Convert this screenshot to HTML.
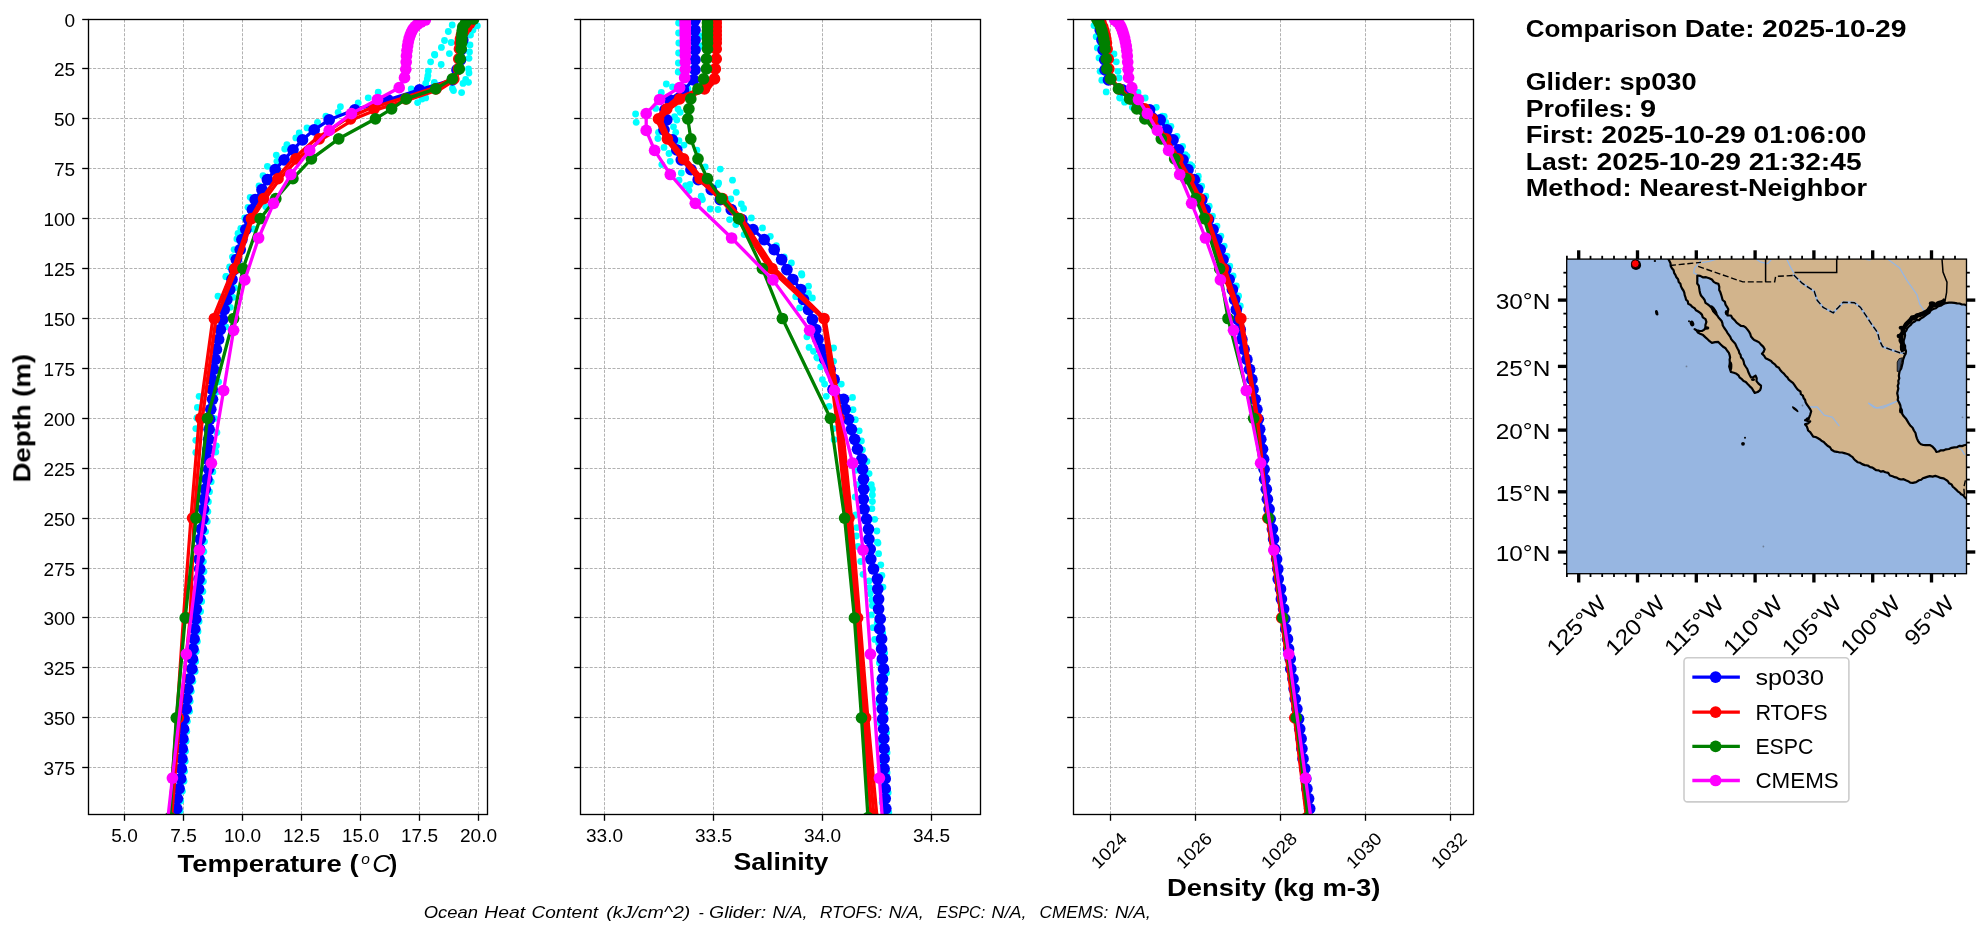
<!DOCTYPE html>
<html><head><meta charset="utf-8"><title>Glider comparison</title>
<style>html,body{margin:0;padding:0;background:#fff}svg{display:block}text{font-family:"Liberation Sans",sans-serif;fill:#000}</style></head><body>
<svg width="1978" height="934" viewBox="0 0 1978 934">
<rect width="1978" height="934" fill="#fff"/>
<defs>
<clipPath id="c0"><rect x="88.5" y="19" width="399.1" height="795.3"/></clipPath>
<clipPath id="c1"><rect x="580.6" y="19" width="400.2" height="795.3"/></clipPath>
<clipPath id="c2"><rect x="1073.3" y="19" width="400.5" height="795.3"/></clipPath>
<clipPath id="cm"><rect x="1566.7" y="259.1" width="399.8" height="314.6"/></clipPath>
<filter id="tf" x="0" y="0" width="1978" height="934" filterUnits="userSpaceOnUse" color-interpolation-filters="sRGB"><feOffset dx="0" dy="0"/></filter>
</defs>
<g stroke="#b2b2b2" stroke-width="1" stroke-dasharray="3.08 1.47" fill="none">
<line x1="124.5" y1="814.3" x2="124.5" y2="19"/>
<line x1="183.5" y1="814.3" x2="183.5" y2="19"/>
<line x1="242.5" y1="814.3" x2="242.5" y2="19"/>
<line x1="301.5" y1="814.3" x2="301.5" y2="19"/>
<line x1="360.5" y1="814.3" x2="360.5" y2="19"/>
<line x1="419.5" y1="814.3" x2="419.5" y2="19"/>
<line x1="478.5" y1="814.3" x2="478.5" y2="19"/>
<line x1="88.5" y1="19.5" x2="487.6" y2="19.5"/>
<line x1="88.5" y1="68.5" x2="487.6" y2="68.5"/>
<line x1="88.5" y1="118.5" x2="487.6" y2="118.5"/>
<line x1="88.5" y1="168.5" x2="487.6" y2="168.5"/>
<line x1="88.5" y1="218.5" x2="487.6" y2="218.5"/>
<line x1="88.5" y1="268.5" x2="487.6" y2="268.5"/>
<line x1="88.5" y1="318.5" x2="487.6" y2="318.5"/>
<line x1="88.5" y1="368.5" x2="487.6" y2="368.5"/>
<line x1="88.5" y1="418.5" x2="487.6" y2="418.5"/>
<line x1="88.5" y1="468.5" x2="487.6" y2="468.5"/>
<line x1="88.5" y1="518.5" x2="487.6" y2="518.5"/>
<line x1="88.5" y1="568.5" x2="487.6" y2="568.5"/>
<line x1="88.5" y1="617.5" x2="487.6" y2="617.5"/>
<line x1="88.5" y1="667.5" x2="487.6" y2="667.5"/>
<line x1="88.5" y1="717.5" x2="487.6" y2="717.5"/>
<line x1="88.5" y1="767.5" x2="487.6" y2="767.5"/>
</g>
<g clip-path="url(#c0)">
<g fill="#00ffff">
<circle cx="452.2" cy="25" r="3.4"/>
<circle cx="448.3" cy="31.5" r="3.4"/>
<circle cx="444.5" cy="40.5" r="3.4"/>
<circle cx="451.2" cy="42.5" r="3.4"/>
<circle cx="441.4" cy="47.4" r="3.4"/>
<circle cx="434.5" cy="54.3" r="3.4"/>
<circle cx="449.4" cy="53.6" r="3.4"/>
<circle cx="430.6" cy="61.8" r="3.4"/>
<circle cx="434.8" cy="55" r="3.4"/>
<circle cx="441.2" cy="64.5" r="3.4"/>
<circle cx="428.4" cy="71.1" r="3.4"/>
<circle cx="427.9" cy="75.6" r="3.4"/>
<circle cx="427.3" cy="79" r="3.4"/>
<circle cx="425.7" cy="83.4" r="3.4"/>
<circle cx="434.3" cy="82.3" r="3.4"/>
<circle cx="411.2" cy="89" r="3.4"/>
<circle cx="469" cy="58.3" r="3.4"/>
<circle cx="468.5" cy="69" r="3.4"/>
<circle cx="469" cy="73" r="3.4"/>
<circle cx="465.7" cy="79.5" r="3.4"/>
<circle cx="468.5" cy="82.3" r="3.4"/>
<circle cx="463" cy="83.4" r="3.4"/>
<circle cx="452.4" cy="88.4" r="3.4"/>
<circle cx="453.5" cy="90.6" r="3.4"/>
<circle cx="461.6" cy="92.6" r="3.4"/>
<circle cx="425.7" cy="97.9" r="3.4"/>
<circle cx="417.6" cy="102.6" r="3.4"/>
<circle cx="422" cy="99" r="3.4"/>
<circle cx="470" cy="25" r="3.4"/>
<circle cx="470.5" cy="35" r="3.4"/>
<circle cx="470" cy="45" r="3.4"/>
<circle cx="469.5" cy="52" r="3.4"/>
<circle cx="477.4" cy="25.8" r="3.4"/>
<circle cx="473" cy="30" r="3.4"/>
<circle cx="466" cy="22" r="3.4"/>
<circle cx="378.2" cy="92.2" r="3.4"/>
<circle cx="368.2" cy="97.8" r="3.4"/>
<circle cx="358.2" cy="102.8" r="3.4"/>
<circle cx="340.4" cy="106.7" r="3.4"/>
<circle cx="338.1" cy="112.3" r="3.4"/>
<circle cx="325.9" cy="116.2" r="3.4"/>
<circle cx="317.5" cy="122.3" r="3.4"/>
<circle cx="307" cy="127.9" r="3.4"/>
<circle cx="299.2" cy="132.9" r="3.4"/>
<circle cx="295.8" cy="137.9" r="3.4"/>
<circle cx="286.9" cy="144.6" r="3.4"/>
<circle cx="284.7" cy="149" r="3.4"/>
<circle cx="276.3" cy="155.1" r="3.4"/>
<circle cx="276.9" cy="161.3" r="3.4"/>
<circle cx="267.4" cy="166.3" r="3.4"/>
<circle cx="263" cy="175.7" r="3.4"/>
<circle cx="259" cy="185.8" r="3.4"/>
<circle cx="250.2" cy="197.3" r="3.4"/>
<circle cx="248" cy="207.3" r="3.4"/>
<circle cx="244.7" cy="217.9" r="3.4"/>
<circle cx="240.8" cy="228.4" r="3.4"/>
<circle cx="238" cy="233.5" r="3.4"/>
<circle cx="236.9" cy="239" r="3.4"/>
<circle cx="234.1" cy="249.6" r="3.4"/>
<circle cx="232.4" cy="256.8" r="3.4"/>
<circle cx="229.6" cy="266.9" r="3.4"/>
<circle cx="226.3" cy="276.3" r="3.4"/>
<circle cx="265.8" cy="206.7" r="3.4"/>
<circle cx="253.6" cy="229" r="3.4"/>
<circle cx="234.7" cy="287.8" r="3.4"/>
<circle cx="233.1" cy="297.3" r="3.4"/>
<circle cx="230.3" cy="307.3" r="3.4"/>
<circle cx="225.8" cy="326.8" r="3.4"/>
<circle cx="225.8" cy="276.7" r="3.4"/>
<circle cx="218" cy="296.2" r="3.4"/>
<circle cx="199.1" cy="396.3" r="3.4"/>
<circle cx="197.4" cy="407.4" r="3.4"/>
<circle cx="196.9" cy="418" r="3.4"/>
<circle cx="195.8" cy="428.6" r="3.4"/>
<circle cx="195.8" cy="440.3" r="3.4"/>
<circle cx="195.8" cy="452.5" r="3.4"/>
<circle cx="218.6" cy="381.8" r="3.4"/>
<circle cx="216.9" cy="391.8" r="3.4"/>
<circle cx="214.7" cy="418.6" r="3.4"/>
<circle cx="216.9" cy="432.5" r="3.4"/>
<circle cx="216.4" cy="445.8" r="3.4"/>
<circle cx="215.8" cy="452" r="3.4"/>
<circle cx="211.8" cy="461.7" r="3.4"/>
<circle cx="212.9" cy="471.7" r="3.4"/>
<circle cx="211.2" cy="481.7" r="3.4"/>
<circle cx="209.5" cy="491.7" r="3.4"/>
<circle cx="208.4" cy="501.7" r="3.4"/>
<circle cx="207.9" cy="511.6" r="3.4"/>
<circle cx="207.3" cy="521.6" r="3.4"/>
<circle cx="205.6" cy="531.6" r="3.4"/>
<circle cx="204.5" cy="541.6" r="3.4"/>
<circle cx="203.9" cy="551.6" r="3.4"/>
<circle cx="203.4" cy="561.6" r="3.4"/>
<circle cx="204" cy="571.5" r="3.4"/>
<circle cx="203.4" cy="581.5" r="3.4"/>
<circle cx="202.9" cy="591.5" r="3.4"/>
<circle cx="201.7" cy="601.5" r="3.4"/>
<circle cx="200.6" cy="611.5" r="3.4"/>
<circle cx="199.1" cy="621.4" r="3.4"/>
<circle cx="198" cy="631.4" r="3.4"/>
<circle cx="197.4" cy="641.4" r="3.4"/>
<circle cx="196.3" cy="651.4" r="3.4"/>
<circle cx="195.7" cy="661.4" r="3.4"/>
<circle cx="195.2" cy="671.4" r="3.4"/>
<circle cx="192.9" cy="681.3" r="3.4"/>
<circle cx="191.3" cy="691.3" r="3.4"/>
<circle cx="190.2" cy="701.3" r="3.4"/>
<circle cx="189.6" cy="711.3" r="3.4"/>
<circle cx="187.4" cy="721.3" r="3.4"/>
<circle cx="186.8" cy="731.3" r="3.4"/>
<circle cx="186.1" cy="741.2" r="3.4"/>
<circle cx="185.5" cy="751.2" r="3.4"/>
<circle cx="185.2" cy="761.2" r="3.4"/>
<circle cx="184.6" cy="771.2" r="3.4"/>
<circle cx="184" cy="781.2" r="3.4"/>
<circle cx="182.4" cy="791.2" r="3.4"/>
<circle cx="180.7" cy="801.1" r="3.4"/>
<circle cx="180.1" cy="811.1" r="3.4"/>
</g>
<g fill="#0000ff" stroke="none">
<polyline points="469,20 463,30 462.8,40 461,49.9 460.5,59.9 457,69.9 452.4,79.9 419.5,89.9 388,99.9 354.8,109.8 329.2,119.8 314.2,129.8 302.5,139.8 293,149.8 284.1,159.8 275.2,169.7 267.4,179.7 262,189.7 255.2,199.7 252.4,209.7 248.6,219.6 245.8,229.6 241.9,239.6 240.2,249.6 236.3,259.6 234.1,269.6 232,279.5 229.7,289.5 226.9,299.5 224.2,309.5 222.5,319.5 220.3,329.5 218.6,339.4 216.4,349.4 215.3,359.4 213.6,369.4 211.9,379.4 212.2,389.4 212.5,399.3 210.8,409.3 209.7,419.3 209.1,429.3 208.6,439.3 208,449.2 207.5,459.2 208.6,469.2 206.9,479.2 205.2,489.2 204.1,499.2 203.6,509.1 203,519.1 201.3,529.1 200.2,539.1 199.6,549.1 199.1,559.1 199.7,569 199.1,579 198.6,589 197.4,599 196.3,609 195.8,618.9 194.7,628.9 194.1,638.9 193,648.9 192.4,658.9 191.9,668.9 189.6,678.8 188,688.8 186.9,698.8 186.3,708.8 184.1,718.8 183.5,728.8 182.8,738.7 182.2,748.7 181.9,758.7 181.3,768.7 180.7,778.7 179.1,788.7 177.4,798.6 176.8,808.6" fill="none" stroke="#0000ff" stroke-width="3.3" stroke-linejoin="round"/>
<circle cx="469" cy="20" r="5.85"/>
<circle cx="463" cy="30" r="5.85"/>
<circle cx="462.8" cy="40" r="5.85"/>
<circle cx="461" cy="49.9" r="5.85"/>
<circle cx="460.5" cy="59.9" r="5.85"/>
<circle cx="457" cy="69.9" r="5.85"/>
<circle cx="452.4" cy="79.9" r="5.85"/>
<circle cx="419.5" cy="89.9" r="5.85"/>
<circle cx="388" cy="99.9" r="5.85"/>
<circle cx="354.8" cy="109.8" r="5.85"/>
<circle cx="329.2" cy="119.8" r="5.85"/>
<circle cx="314.2" cy="129.8" r="5.85"/>
<circle cx="302.5" cy="139.8" r="5.85"/>
<circle cx="293" cy="149.8" r="5.85"/>
<circle cx="284.1" cy="159.8" r="5.85"/>
<circle cx="275.2" cy="169.7" r="5.85"/>
<circle cx="267.4" cy="179.7" r="5.85"/>
<circle cx="262" cy="189.7" r="5.85"/>
<circle cx="255.2" cy="199.7" r="5.85"/>
<circle cx="252.4" cy="209.7" r="5.85"/>
<circle cx="248.6" cy="219.6" r="5.85"/>
<circle cx="245.8" cy="229.6" r="5.85"/>
<circle cx="241.9" cy="239.6" r="5.85"/>
<circle cx="240.2" cy="249.6" r="5.85"/>
<circle cx="236.3" cy="259.6" r="5.85"/>
<circle cx="234.1" cy="269.6" r="5.85"/>
<circle cx="232" cy="279.5" r="5.85"/>
<circle cx="229.7" cy="289.5" r="5.85"/>
<circle cx="226.9" cy="299.5" r="5.85"/>
<circle cx="224.2" cy="309.5" r="5.85"/>
<circle cx="222.5" cy="319.5" r="5.85"/>
<circle cx="220.3" cy="329.5" r="5.85"/>
<circle cx="218.6" cy="339.4" r="5.85"/>
<circle cx="216.4" cy="349.4" r="5.85"/>
<circle cx="215.3" cy="359.4" r="5.85"/>
<circle cx="213.6" cy="369.4" r="5.85"/>
<circle cx="211.9" cy="379.4" r="5.85"/>
<circle cx="212.2" cy="389.4" r="5.85"/>
<circle cx="212.5" cy="399.3" r="5.85"/>
<circle cx="210.8" cy="409.3" r="5.85"/>
<circle cx="209.7" cy="419.3" r="5.85"/>
<circle cx="209.1" cy="429.3" r="5.85"/>
<circle cx="208.6" cy="439.3" r="5.85"/>
<circle cx="208" cy="449.2" r="5.85"/>
<circle cx="207.5" cy="459.2" r="5.85"/>
<circle cx="208.6" cy="469.2" r="5.85"/>
<circle cx="206.9" cy="479.2" r="5.85"/>
<circle cx="205.2" cy="489.2" r="5.85"/>
<circle cx="204.1" cy="499.2" r="5.85"/>
<circle cx="203.6" cy="509.1" r="5.85"/>
<circle cx="203" cy="519.1" r="5.85"/>
<circle cx="201.3" cy="529.1" r="5.85"/>
<circle cx="200.2" cy="539.1" r="5.85"/>
<circle cx="199.6" cy="549.1" r="5.85"/>
<circle cx="199.1" cy="559.1" r="5.85"/>
<circle cx="199.7" cy="569" r="5.85"/>
<circle cx="199.1" cy="579" r="5.85"/>
<circle cx="198.6" cy="589" r="5.85"/>
<circle cx="197.4" cy="599" r="5.85"/>
<circle cx="196.3" cy="609" r="5.85"/>
<circle cx="195.8" cy="618.9" r="5.85"/>
<circle cx="194.7" cy="628.9" r="5.85"/>
<circle cx="194.1" cy="638.9" r="5.85"/>
<circle cx="193" cy="648.9" r="5.85"/>
<circle cx="192.4" cy="658.9" r="5.85"/>
<circle cx="191.9" cy="668.9" r="5.85"/>
<circle cx="189.6" cy="678.8" r="5.85"/>
<circle cx="188" cy="688.8" r="5.85"/>
<circle cx="186.9" cy="698.8" r="5.85"/>
<circle cx="186.3" cy="708.8" r="5.85"/>
<circle cx="184.1" cy="718.8" r="5.85"/>
<circle cx="183.5" cy="728.8" r="5.85"/>
<circle cx="182.8" cy="738.7" r="5.85"/>
<circle cx="182.2" cy="748.7" r="5.85"/>
<circle cx="181.9" cy="758.7" r="5.85"/>
<circle cx="181.3" cy="768.7" r="5.85"/>
<circle cx="180.7" cy="778.7" r="5.85"/>
<circle cx="179.1" cy="788.7" r="5.85"/>
<circle cx="177.4" cy="798.6" r="5.85"/>
<circle cx="176.8" cy="808.6" r="5.85"/>
</g>
<g fill="#ff0000" stroke="none">
<polyline points="473,19 470,23 467,27 464,31 461.5,35 460.5,39 460,43 459.5,48.9 458.8,58.9 458.5,68.9 451,78.9 431,88.9 400.5,98.9 369,108.8 346.5,118.8 316,138.8 293.5,158.8 276,178.7 262,198.7 250.5,218.7 233.2,268.6 212.9,318.5 199.2,418.3 191,518.1 183.5,617.9 176.8,717.8 169.5,817.6" fill="none" stroke="#ff0000" stroke-width="3.3" stroke-linejoin="round"/>
</g>
<g fill="#ff0000" stroke="none">
<polyline points="473,19 470,23 467,27 464,31 461.5,35 460.5,39 460,43 459.5,48.9 458.8,58.9 458.5,68.9 456.5,78.9 441,88.9 411,98.9 379,108.8 354.5,118.8 322.5,138.8 298,158.8 280,178.7 265.3,198.7 252.3,218.7 236.6,268.6 216,318.5 202.3,418.3 194.1,518.1 190.2,617.9 179.8,717.8 171.5,817.6" fill="none" stroke="#ff0000" stroke-width="3.3" stroke-linejoin="round"/>
</g>
<g fill="#ff0000">
<circle cx="473" cy="19" r="5.85"/>
<circle cx="470" cy="23" r="5.85"/>
<circle cx="467" cy="27" r="5.85"/>
<circle cx="464" cy="31" r="5.85"/>
<circle cx="461.5" cy="35" r="5.85"/>
<circle cx="460.5" cy="39" r="5.85"/>
<circle cx="460" cy="43" r="5.85"/>
<circle cx="459.5" cy="48.9" r="5.85"/>
<circle cx="458.8" cy="58.9" r="5.85"/>
<circle cx="458.5" cy="68.9" r="5.85"/>
<circle cx="453.8" cy="78.9" r="5.85"/>
<circle cx="436" cy="88.9" r="5.85"/>
<circle cx="405.8" cy="98.9" r="5.85"/>
<circle cx="374" cy="108.8" r="5.85"/>
<circle cx="350.5" cy="118.8" r="5.85"/>
<circle cx="319.2" cy="138.8" r="5.85"/>
<circle cx="295.8" cy="158.8" r="5.85"/>
<circle cx="278" cy="178.7" r="5.85"/>
<circle cx="263.6" cy="198.7" r="5.85"/>
<circle cx="251.4" cy="218.7" r="5.85"/>
<circle cx="234.9" cy="268.6" r="5.85"/>
<circle cx="214.4" cy="318.5" r="5.85"/>
<circle cx="200.8" cy="418.3" r="5.85"/>
<circle cx="192.6" cy="518.1" r="5.85"/>
<circle cx="186.8" cy="617.9" r="5.85"/>
<circle cx="178.3" cy="717.8" r="5.85"/>
<circle cx="170.5" cy="817.6" r="5.85"/>
</g>
<g fill="#008000" stroke="none">
<polyline points="473.6,19 465.5,23 462.8,27 462.2,31 462,35 461.8,39 461.6,43 461.2,48.9 460.2,58.9 459.3,68.9 452.4,78.9 435.7,88.9 406.2,98.9 391.6,108.8 375.4,118.8 338.7,138.8 311.4,158.8 292.9,178.7 275.8,198.7 260.2,218.7 243,268.6 233.6,318.5 207.5,418.3 196,518.1 185.2,617.9 176.3,717.8 169.9,817.6" fill="none" stroke="#008000" stroke-width="3.3" stroke-linejoin="round"/>
<circle cx="473.6" cy="19" r="5.85"/>
<circle cx="465.5" cy="23" r="5.85"/>
<circle cx="462.8" cy="27" r="5.85"/>
<circle cx="462.2" cy="31" r="5.85"/>
<circle cx="462" cy="35" r="5.85"/>
<circle cx="461.8" cy="39" r="5.85"/>
<circle cx="461.6" cy="43" r="5.85"/>
<circle cx="461.2" cy="48.9" r="5.85"/>
<circle cx="460.2" cy="58.9" r="5.85"/>
<circle cx="459.3" cy="68.9" r="5.85"/>
<circle cx="452.4" cy="78.9" r="5.85"/>
<circle cx="435.7" cy="88.9" r="5.85"/>
<circle cx="406.2" cy="98.9" r="5.85"/>
<circle cx="391.6" cy="108.8" r="5.85"/>
<circle cx="375.4" cy="118.8" r="5.85"/>
<circle cx="338.7" cy="138.8" r="5.85"/>
<circle cx="311.4" cy="158.8" r="5.85"/>
<circle cx="292.9" cy="178.7" r="5.85"/>
<circle cx="275.8" cy="198.7" r="5.85"/>
<circle cx="260.2" cy="218.7" r="5.85"/>
<circle cx="243" cy="268.6" r="5.85"/>
<circle cx="233.6" cy="318.5" r="5.85"/>
<circle cx="207.5" cy="418.3" r="5.85"/>
<circle cx="196" cy="518.1" r="5.85"/>
<circle cx="185.2" cy="617.9" r="5.85"/>
<circle cx="176.3" cy="717.8" r="5.85"/>
<circle cx="169.9" cy="817.6" r="5.85"/>
</g>
<g fill="#ff00ff" stroke="none">
<polyline points="425.3,20 421,22.1 417.5,24.3 415,26.6 413,29.1 411.5,31.9 410.3,34.8 409.2,38.1 408.3,41.8 407.6,45.9 407,50.6 406.5,55.9 406.2,62.1 405.8,69.3 404.5,77.7 399.2,87.7 377.5,99.5 351.4,113.6 329.2,130.4 309.7,150.4 290.8,174.5 273.6,203.3 258.6,238 244.8,279.9 233.6,330.3 223.6,390.5 211.4,463.2 199.4,550.1 186.4,654.1 172.4,778.1 155.8,925.2" fill="none" stroke="#ff00ff" stroke-width="3.3" stroke-linejoin="round"/>
<circle cx="425.3" cy="20" r="5.85"/>
<circle cx="421" cy="22.1" r="5.85"/>
<circle cx="417.5" cy="24.3" r="5.85"/>
<circle cx="415" cy="26.6" r="5.85"/>
<circle cx="413" cy="29.1" r="5.85"/>
<circle cx="411.5" cy="31.9" r="5.85"/>
<circle cx="410.3" cy="34.8" r="5.85"/>
<circle cx="409.2" cy="38.1" r="5.85"/>
<circle cx="408.3" cy="41.8" r="5.85"/>
<circle cx="407.6" cy="45.9" r="5.85"/>
<circle cx="407" cy="50.6" r="5.85"/>
<circle cx="406.5" cy="55.9" r="5.85"/>
<circle cx="406.2" cy="62.1" r="5.85"/>
<circle cx="405.8" cy="69.3" r="5.85"/>
<circle cx="404.5" cy="77.7" r="5.85"/>
<circle cx="399.2" cy="87.7" r="5.85"/>
<circle cx="377.5" cy="99.5" r="5.85"/>
<circle cx="351.4" cy="113.6" r="5.85"/>
<circle cx="329.2" cy="130.4" r="5.85"/>
<circle cx="309.7" cy="150.4" r="5.85"/>
<circle cx="290.8" cy="174.5" r="5.85"/>
<circle cx="273.6" cy="203.3" r="5.85"/>
<circle cx="258.6" cy="238" r="5.85"/>
<circle cx="244.8" cy="279.9" r="5.85"/>
<circle cx="233.6" cy="330.3" r="5.85"/>
<circle cx="223.6" cy="390.5" r="5.85"/>
<circle cx="211.4" cy="463.2" r="5.85"/>
<circle cx="199.4" cy="550.1" r="5.85"/>
<circle cx="186.4" cy="654.1" r="5.85"/>
<circle cx="172.4" cy="778.1" r="5.85"/>
</g>
</g>
<g stroke="#000" stroke-width="1.33" fill="none">
<rect x="88.5" y="19.5" width="399" height="795"/>
<line x1="124.5" y1="814.5" x2="124.5" y2="820.8"/>
<line x1="183.5" y1="814.5" x2="183.5" y2="820.8"/>
<line x1="242.5" y1="814.5" x2="242.5" y2="820.8"/>
<line x1="301.5" y1="814.5" x2="301.5" y2="820.8"/>
<line x1="360.5" y1="814.5" x2="360.5" y2="820.8"/>
<line x1="419.5" y1="814.5" x2="419.5" y2="820.8"/>
<line x1="478.5" y1="814.5" x2="478.5" y2="820.8"/>
<line x1="82.2" y1="19.5" x2="88.5" y2="19.5"/>
<line x1="82.2" y1="68.5" x2="88.5" y2="68.5"/>
<line x1="82.2" y1="118.5" x2="88.5" y2="118.5"/>
<line x1="82.2" y1="168.5" x2="88.5" y2="168.5"/>
<line x1="82.2" y1="218.5" x2="88.5" y2="218.5"/>
<line x1="82.2" y1="268.5" x2="88.5" y2="268.5"/>
<line x1="82.2" y1="318.5" x2="88.5" y2="318.5"/>
<line x1="82.2" y1="368.5" x2="88.5" y2="368.5"/>
<line x1="82.2" y1="418.5" x2="88.5" y2="418.5"/>
<line x1="82.2" y1="468.5" x2="88.5" y2="468.5"/>
<line x1="82.2" y1="518.5" x2="88.5" y2="518.5"/>
<line x1="82.2" y1="568.5" x2="88.5" y2="568.5"/>
<line x1="82.2" y1="617.5" x2="88.5" y2="617.5"/>
<line x1="82.2" y1="667.5" x2="88.5" y2="667.5"/>
<line x1="82.2" y1="717.5" x2="88.5" y2="717.5"/>
<line x1="82.2" y1="767.5" x2="88.5" y2="767.5"/>
</g>
<g stroke="#b2b2b2" stroke-width="1" stroke-dasharray="3.08 1.47" fill="none">
<line x1="604.5" y1="814.3" x2="604.5" y2="19"/>
<line x1="713.5" y1="814.3" x2="713.5" y2="19"/>
<line x1="822.5" y1="814.3" x2="822.5" y2="19"/>
<line x1="931.5" y1="814.3" x2="931.5" y2="19"/>
<line x1="580.6" y1="19.5" x2="980.8" y2="19.5"/>
<line x1="580.6" y1="68.5" x2="980.8" y2="68.5"/>
<line x1="580.6" y1="118.5" x2="980.8" y2="118.5"/>
<line x1="580.6" y1="168.5" x2="980.8" y2="168.5"/>
<line x1="580.6" y1="218.5" x2="980.8" y2="218.5"/>
<line x1="580.6" y1="268.5" x2="980.8" y2="268.5"/>
<line x1="580.6" y1="318.5" x2="980.8" y2="318.5"/>
<line x1="580.6" y1="368.5" x2="980.8" y2="368.5"/>
<line x1="580.6" y1="418.5" x2="980.8" y2="418.5"/>
<line x1="580.6" y1="468.5" x2="980.8" y2="468.5"/>
<line x1="580.6" y1="518.5" x2="980.8" y2="518.5"/>
<line x1="580.6" y1="568.5" x2="980.8" y2="568.5"/>
<line x1="580.6" y1="617.5" x2="980.8" y2="617.5"/>
<line x1="580.6" y1="667.5" x2="980.8" y2="667.5"/>
<line x1="580.6" y1="717.5" x2="980.8" y2="717.5"/>
<line x1="580.6" y1="767.5" x2="980.8" y2="767.5"/>
</g>
<g clip-path="url(#c1)">
<g fill="#00ffff">
<circle cx="678.6" cy="23" r="3.4"/>
<circle cx="678.6" cy="33" r="3.4"/>
<circle cx="678.8" cy="43" r="3.4"/>
<circle cx="678.6" cy="53" r="3.4"/>
<circle cx="678.4" cy="63" r="3.4"/>
<circle cx="678.2" cy="72" r="3.4"/>
<circle cx="701.5" cy="36" r="3.4"/>
<circle cx="701.5" cy="46" r="3.4"/>
<circle cx="666.3" cy="84" r="3.4"/>
<circle cx="672.5" cy="86.9" r="3.4"/>
<circle cx="661.3" cy="92.4" r="3.4"/>
<circle cx="688" cy="89" r="3.4"/>
<circle cx="655.7" cy="108.4" r="3.4"/>
<circle cx="635.6" cy="114" r="3.4"/>
<circle cx="636.2" cy="122.3" r="3.4"/>
<circle cx="678" cy="109" r="3.4"/>
<circle cx="680.2" cy="112.3" r="3.4"/>
<circle cx="674.6" cy="116.7" r="3.4"/>
<circle cx="676.8" cy="120.1" r="3.4"/>
<circle cx="673.5" cy="126.8" r="3.4"/>
<circle cx="675.7" cy="132.3" r="3.4"/>
<circle cx="658.5" cy="132.3" r="3.4"/>
<circle cx="657.9" cy="138.5" r="3.4"/>
<circle cx="679" cy="140.7" r="3.4"/>
<circle cx="684" cy="145.1" r="3.4"/>
<circle cx="664" cy="147.4" r="3.4"/>
<circle cx="669" cy="153.5" r="3.4"/>
<circle cx="696.9" cy="150.2" r="3.4"/>
<circle cx="670.2" cy="161.3" r="3.4"/>
<circle cx="661.8" cy="164.6" r="3.4"/>
<circle cx="705.2" cy="166.9" r="3.4"/>
<circle cx="720.3" cy="169.1" r="3.4"/>
<circle cx="681.3" cy="173" r="3.4"/>
<circle cx="679" cy="180.2" r="3.4"/>
<circle cx="732.5" cy="180.2" r="3.4"/>
<circle cx="718.6" cy="183" r="3.4"/>
<circle cx="736.3" cy="192.3" r="3.4"/>
<circle cx="718" cy="184.5" r="3.4"/>
<circle cx="685.7" cy="185.6" r="3.4"/>
<circle cx="690" cy="184.5" r="3.4"/>
<circle cx="689" cy="190.6" r="3.4"/>
<circle cx="701.2" cy="196.2" r="3.4"/>
<circle cx="702.4" cy="199.5" r="3.4"/>
<circle cx="710.2" cy="209" r="3.4"/>
<circle cx="718" cy="209.5" r="3.4"/>
<circle cx="730.8" cy="199" r="3.4"/>
<circle cx="741.3" cy="204" r="3.4"/>
<circle cx="743.6" cy="208.4" r="3.4"/>
<circle cx="729.6" cy="219.6" r="3.4"/>
<circle cx="751.4" cy="217.9" r="3.4"/>
<circle cx="735.8" cy="224.6" r="3.4"/>
<circle cx="744.1" cy="234.6" r="3.4"/>
<circle cx="762.5" cy="227.9" r="3.4"/>
<circle cx="770.3" cy="236.3" r="3.4"/>
<circle cx="776.4" cy="245.7" r="3.4"/>
<circle cx="784.2" cy="256.9" r="3.4"/>
<circle cx="791.4" cy="263" r="3.4"/>
<circle cx="801.5" cy="273.6" r="3.4"/>
<circle cx="801.9" cy="275" r="3.4"/>
<circle cx="808.5" cy="286.2" r="3.4"/>
<circle cx="808.5" cy="293.4" r="3.4"/>
<circle cx="812.4" cy="297.9" r="3.4"/>
<circle cx="795.7" cy="296.7" r="3.4"/>
<circle cx="799.6" cy="307.9" r="3.4"/>
<circle cx="806.9" cy="336.8" r="3.4"/>
<circle cx="809.1" cy="347.4" r="3.4"/>
<circle cx="813.5" cy="351.3" r="3.4"/>
<circle cx="817.4" cy="358" r="3.4"/>
<circle cx="833.6" cy="348" r="3.4"/>
<circle cx="833.6" cy="361.3" r="3.4"/>
<circle cx="816.8" cy="357.3" r="3.4"/>
<circle cx="820.7" cy="366.8" r="3.4"/>
<circle cx="822.4" cy="379.6" r="3.4"/>
<circle cx="824.6" cy="384.1" r="3.4"/>
<circle cx="841.3" cy="384.1" r="3.4"/>
<circle cx="826.3" cy="396.3" r="3.4"/>
<circle cx="852.5" cy="397.4" r="3.4"/>
<circle cx="829.1" cy="406.3" r="3.4"/>
<circle cx="853" cy="409.7" r="3.4"/>
<circle cx="855.3" cy="419.7" r="3.4"/>
<circle cx="859.2" cy="430.8" r="3.4"/>
<circle cx="861.4" cy="440.9" r="3.4"/>
<circle cx="862.5" cy="449.8" r="3.4"/>
<circle cx="833.5" cy="428.6" r="3.4"/>
<circle cx="834.1" cy="439.7" r="3.4"/>
<circle cx="866.9" cy="461.4" r="3.4"/>
<circle cx="869.1" cy="473.6" r="3.4"/>
<circle cx="871.3" cy="484.7" r="3.4"/>
<circle cx="872.4" cy="489.2" r="3.4"/>
<circle cx="872.4" cy="495" r="3.4"/>
<circle cx="872.4" cy="501.5" r="3.4"/>
<circle cx="871.9" cy="508.7" r="3.4"/>
<circle cx="874.7" cy="519.3" r="3.4"/>
<circle cx="876.9" cy="531" r="3.4"/>
<circle cx="877.4" cy="542.1" r="3.4"/>
<circle cx="855.7" cy="470.3" r="3.4"/>
<circle cx="856.8" cy="484.7" r="3.4"/>
<circle cx="855.2" cy="497" r="3.4"/>
<circle cx="855.7" cy="514.8" r="3.4"/>
<circle cx="856.8" cy="527.6" r="3.4"/>
<circle cx="856.3" cy="536" r="3.4"/>
<circle cx="878" cy="543.1" r="3.4"/>
<circle cx="878.6" cy="553.7" r="3.4"/>
<circle cx="880.8" cy="564.8" r="3.4"/>
<circle cx="881.9" cy="575.4" r="3.4"/>
<circle cx="883" cy="587.1" r="3.4"/>
<circle cx="858" cy="546.5" r="3.4"/>
<circle cx="860.7" cy="561.5" r="3.4"/>
<circle cx="863" cy="574.3" r="3.4"/>
<circle cx="869.1" cy="581" r="3.4"/>
<circle cx="869.6" cy="587.7" r="3.4"/>
<circle cx="870.2" cy="593.8" r="3.4"/>
<circle cx="871.9" cy="599.9" r="3.4"/>
<circle cx="872.4" cy="605.5" r="3.4"/>
<circle cx="871.3" cy="614.9" r="3.4"/>
<circle cx="873" cy="627.7" r="3.4"/>
<circle cx="874.7" cy="639.4" r="3.4"/>
<circle cx="877.2" cy="622.9" r="3.4"/>
<circle cx="882.7" cy="632.9" r="3.4"/>
<circle cx="878.6" cy="642.9" r="3.4"/>
<circle cx="884.6" cy="652.9" r="3.4"/>
<circle cx="879.4" cy="662.9" r="3.4"/>
<circle cx="886.6" cy="672.9" r="3.4"/>
<circle cx="879.4" cy="682.8" r="3.4"/>
<circle cx="885.2" cy="692.8" r="3.4"/>
<circle cx="878.6" cy="702.8" r="3.4"/>
<circle cx="885.2" cy="712.8" r="3.4"/>
<circle cx="879.7" cy="722.8" r="3.4"/>
<circle cx="886.6" cy="732.8" r="3.4"/>
<circle cx="880.8" cy="742.7" r="3.4"/>
<circle cx="887.1" cy="752.7" r="3.4"/>
<circle cx="881.1" cy="762.7" r="3.4"/>
<circle cx="887.1" cy="772.7" r="3.4"/>
<circle cx="882.2" cy="782.7" r="3.4"/>
<circle cx="888.2" cy="792.7" r="3.4"/>
<circle cx="882.2" cy="802.6" r="3.4"/>
<circle cx="888.8" cy="812.6" r="3.4"/>
</g>
<g fill="#0000ff" stroke="none">
<polyline points="695,20 695,30 695,40 695,49.9 695,59.9 695,69.9 693.5,79.9 683.5,89.9 669.6,99.9 665,109.8 666.8,119.8 664,129.8 672.4,139.8 676.8,149.8 681.3,159.8 691,169.7 698.2,179.7 711.3,189.7 720.2,199.7 731.3,209.7 741.9,219.6 753,229.6 764.2,239.6 774.2,249.6 781.6,259.6 786.9,269.6 792.9,279.5 800.7,289.5 803.5,299.5 808.5,309.5 812.4,319.5 815.8,329.5 818,339.4 821.9,349.4 824.9,359.4 830.2,369.4 834.1,379.4 833,389.4 843.6,399.3 845.2,409.3 848.6,419.3 851.4,429.3 854.7,439.3 857.5,449.2 861.8,459.2 862.6,469.2 863.5,479.2 863.7,489.2 863.3,499.2 864.1,509.1 866.6,519.1 868.5,529.1 868.9,539.1 870.2,549.1 870.8,559.1 873.5,569 877.4,579 877.8,589 878.6,599 878.6,609 880.2,618.9 879.7,628.9 881.6,638.9 881.6,648.9 882.4,658.9 883.6,668.9 882.4,678.8 882.2,688.8 881.6,698.8 882.2,708.8 882.7,718.8 883.6,728.8 883.8,738.7 884.1,748.7 884.1,758.7 884.1,768.7 885.2,778.7 885.2,788.7 885.2,798.6 885.8,808.6" fill="none" stroke="#0000ff" stroke-width="3.3" stroke-linejoin="round"/>
<circle cx="695" cy="20" r="5.85"/>
<circle cx="695" cy="30" r="5.85"/>
<circle cx="695" cy="40" r="5.85"/>
<circle cx="695" cy="49.9" r="5.85"/>
<circle cx="695" cy="59.9" r="5.85"/>
<circle cx="695" cy="69.9" r="5.85"/>
<circle cx="693.5" cy="79.9" r="5.85"/>
<circle cx="683.5" cy="89.9" r="5.85"/>
<circle cx="669.6" cy="99.9" r="5.85"/>
<circle cx="665" cy="109.8" r="5.85"/>
<circle cx="666.8" cy="119.8" r="5.85"/>
<circle cx="664" cy="129.8" r="5.85"/>
<circle cx="672.4" cy="139.8" r="5.85"/>
<circle cx="676.8" cy="149.8" r="5.85"/>
<circle cx="681.3" cy="159.8" r="5.85"/>
<circle cx="691" cy="169.7" r="5.85"/>
<circle cx="698.2" cy="179.7" r="5.85"/>
<circle cx="711.3" cy="189.7" r="5.85"/>
<circle cx="720.2" cy="199.7" r="5.85"/>
<circle cx="731.3" cy="209.7" r="5.85"/>
<circle cx="741.9" cy="219.6" r="5.85"/>
<circle cx="753" cy="229.6" r="5.85"/>
<circle cx="764.2" cy="239.6" r="5.85"/>
<circle cx="774.2" cy="249.6" r="5.85"/>
<circle cx="781.6" cy="259.6" r="5.85"/>
<circle cx="786.9" cy="269.6" r="5.85"/>
<circle cx="792.9" cy="279.5" r="5.85"/>
<circle cx="800.7" cy="289.5" r="5.85"/>
<circle cx="803.5" cy="299.5" r="5.85"/>
<circle cx="808.5" cy="309.5" r="5.85"/>
<circle cx="812.4" cy="319.5" r="5.85"/>
<circle cx="815.8" cy="329.5" r="5.85"/>
<circle cx="818" cy="339.4" r="5.85"/>
<circle cx="821.9" cy="349.4" r="5.85"/>
<circle cx="824.9" cy="359.4" r="5.85"/>
<circle cx="830.2" cy="369.4" r="5.85"/>
<circle cx="834.1" cy="379.4" r="5.85"/>
<circle cx="833" cy="389.4" r="5.85"/>
<circle cx="843.6" cy="399.3" r="5.85"/>
<circle cx="845.2" cy="409.3" r="5.85"/>
<circle cx="848.6" cy="419.3" r="5.85"/>
<circle cx="851.4" cy="429.3" r="5.85"/>
<circle cx="854.7" cy="439.3" r="5.85"/>
<circle cx="857.5" cy="449.2" r="5.85"/>
<circle cx="861.8" cy="459.2" r="5.85"/>
<circle cx="862.6" cy="469.2" r="5.85"/>
<circle cx="863.5" cy="479.2" r="5.85"/>
<circle cx="863.7" cy="489.2" r="5.85"/>
<circle cx="863.3" cy="499.2" r="5.85"/>
<circle cx="864.1" cy="509.1" r="5.85"/>
<circle cx="866.6" cy="519.1" r="5.85"/>
<circle cx="868.5" cy="529.1" r="5.85"/>
<circle cx="868.9" cy="539.1" r="5.85"/>
<circle cx="870.2" cy="549.1" r="5.85"/>
<circle cx="870.8" cy="559.1" r="5.85"/>
<circle cx="873.5" cy="569" r="5.85"/>
<circle cx="877.4" cy="579" r="5.85"/>
<circle cx="877.8" cy="589" r="5.85"/>
<circle cx="878.6" cy="599" r="5.85"/>
<circle cx="878.6" cy="609" r="5.85"/>
<circle cx="880.2" cy="618.9" r="5.85"/>
<circle cx="879.7" cy="628.9" r="5.85"/>
<circle cx="881.6" cy="638.9" r="5.85"/>
<circle cx="881.6" cy="648.9" r="5.85"/>
<circle cx="882.4" cy="658.9" r="5.85"/>
<circle cx="883.6" cy="668.9" r="5.85"/>
<circle cx="882.4" cy="678.8" r="5.85"/>
<circle cx="882.2" cy="688.8" r="5.85"/>
<circle cx="881.6" cy="698.8" r="5.85"/>
<circle cx="882.2" cy="708.8" r="5.85"/>
<circle cx="882.7" cy="718.8" r="5.85"/>
<circle cx="883.6" cy="728.8" r="5.85"/>
<circle cx="883.8" cy="738.7" r="5.85"/>
<circle cx="884.1" cy="748.7" r="5.85"/>
<circle cx="884.1" cy="758.7" r="5.85"/>
<circle cx="884.1" cy="768.7" r="5.85"/>
<circle cx="885.2" cy="778.7" r="5.85"/>
<circle cx="885.2" cy="788.7" r="5.85"/>
<circle cx="885.2" cy="798.6" r="5.85"/>
<circle cx="885.8" cy="808.6" r="5.85"/>
</g>
<g fill="#ff0000" stroke="none">
<polyline points="716.2,19 716.2,23 716.2,27 716.2,31 716.2,35 716.2,39 716.2,43 716.2,48.9 716.2,58.9 715.3,68.9 713,78.9 700.5,88.9 675.5,98.9 664,108.8 656.3,118.8 665.4,138.8 681.3,158.8 698,178.7 720,198.7 737.5,218.7 769.5,268.6 823,318.5 836.5,418.3 846.5,518.1 855.5,617.9 863.5,717.8 871,817.6" fill="none" stroke="#ff0000" stroke-width="3.3" stroke-linejoin="round"/>
</g>
<g fill="#ff0000" stroke="none">
<polyline points="716.2,19 716.2,23 716.2,27 716.2,31 716.2,35 716.2,39 716.2,43 716.2,48.9 716.2,58.9 715.3,68.9 716,78.9 708.5,88.9 683.7,98.9 669.6,108.8 660.7,118.8 669.4,138.8 685.7,158.8 702.4,178.7 725,198.7 741.9,218.7 774.6,268.6 825,318.5 841.5,418.3 851.5,518.1 859.7,617.9 867.8,717.8 877,817.6" fill="none" stroke="#ff0000" stroke-width="3.3" stroke-linejoin="round"/>
</g>
<g fill="#ff0000" stroke="none">
<polyline points="716.2,19 716.2,23 716.2,27 716.2,31 716.2,35 716.2,39 716.2,43 716.2,48.9 716.2,58.9 715.3,68.9 714.5,78.9 704.5,88.9 679.6,98.9 666.8,108.8 658.5,118.8 667.4,138.8 683.5,158.8 700.2,178.7 722.5,198.7 739.7,218.7 772,268.6 824,318.5 839,418.3 849,518.1 857.6,617.9 865.6,717.8 874,817.6" fill="none" stroke="#ff0000" stroke-width="3.3" stroke-linejoin="round"/>
</g>
<g fill="#ff0000">
<circle cx="716.2" cy="19" r="5.85"/>
<circle cx="716.2" cy="23" r="5.85"/>
<circle cx="716.2" cy="27" r="5.85"/>
<circle cx="716.2" cy="31" r="5.85"/>
<circle cx="716.2" cy="35" r="5.85"/>
<circle cx="716.2" cy="39" r="5.85"/>
<circle cx="716.2" cy="43" r="5.85"/>
<circle cx="716.2" cy="48.9" r="5.85"/>
<circle cx="716.2" cy="58.9" r="5.85"/>
<circle cx="715.3" cy="68.9" r="5.85"/>
<circle cx="714.5" cy="78.9" r="5.85"/>
<circle cx="704.5" cy="88.9" r="5.85"/>
<circle cx="679.6" cy="98.9" r="5.85"/>
<circle cx="666.8" cy="108.8" r="5.85"/>
<circle cx="658.5" cy="118.8" r="5.85"/>
<circle cx="667.4" cy="138.8" r="5.85"/>
<circle cx="683.5" cy="158.8" r="5.85"/>
<circle cx="700.2" cy="178.7" r="5.85"/>
<circle cx="722.5" cy="198.7" r="5.85"/>
<circle cx="739.7" cy="218.7" r="5.85"/>
<circle cx="772" cy="268.6" r="5.85"/>
<circle cx="824" cy="318.5" r="5.85"/>
<circle cx="839" cy="418.3" r="5.85"/>
<circle cx="849" cy="518.1" r="5.85"/>
<circle cx="857.6" cy="617.9" r="5.85"/>
<circle cx="865.6" cy="717.8" r="5.85"/>
<circle cx="874" cy="817.6" r="5.85"/>
</g>
<g fill="#008000" stroke="none">
<polyline points="707.5,19 707.5,23 707.5,27 707.5,31 707.5,35 707.5,39 707.5,43 707.5,48.9 706.4,58.9 706.4,68.9 703.6,78.9 698,88.9 690.8,98.9 688.9,108.8 687.8,118.8 690.8,138.8 698,158.8 707.5,178.7 721.3,198.7 738.6,218.7 762.4,268.6 782.4,318.5 830.4,418.3 844.6,518.1 854.4,617.9 861.5,717.8 868,817.6" fill="none" stroke="#008000" stroke-width="3.3" stroke-linejoin="round"/>
<circle cx="707.5" cy="19" r="5.85"/>
<circle cx="707.5" cy="23" r="5.85"/>
<circle cx="707.5" cy="27" r="5.85"/>
<circle cx="707.5" cy="31" r="5.85"/>
<circle cx="707.5" cy="35" r="5.85"/>
<circle cx="707.5" cy="39" r="5.85"/>
<circle cx="707.5" cy="43" r="5.85"/>
<circle cx="707.5" cy="48.9" r="5.85"/>
<circle cx="706.4" cy="58.9" r="5.85"/>
<circle cx="706.4" cy="68.9" r="5.85"/>
<circle cx="703.6" cy="78.9" r="5.85"/>
<circle cx="698" cy="88.9" r="5.85"/>
<circle cx="690.8" cy="98.9" r="5.85"/>
<circle cx="688.9" cy="108.8" r="5.85"/>
<circle cx="687.8" cy="118.8" r="5.85"/>
<circle cx="690.8" cy="138.8" r="5.85"/>
<circle cx="698" cy="158.8" r="5.85"/>
<circle cx="707.5" cy="178.7" r="5.85"/>
<circle cx="721.3" cy="198.7" r="5.85"/>
<circle cx="738.6" cy="218.7" r="5.85"/>
<circle cx="762.4" cy="268.6" r="5.85"/>
<circle cx="782.4" cy="318.5" r="5.85"/>
<circle cx="830.4" cy="418.3" r="5.85"/>
<circle cx="844.6" cy="518.1" r="5.85"/>
<circle cx="854.4" cy="617.9" r="5.85"/>
<circle cx="861.5" cy="717.8" r="5.85"/>
<circle cx="868" cy="817.6" r="5.85"/>
</g>
<g fill="#ff00ff" stroke="none">
<polyline points="685.3,20 685.3,22.1 685.3,24.3 685.3,26.6 685.3,29.1 685.3,31.9 685.3,34.8 685.3,38.1 685.3,41.8 685.3,45.9 685.3,50.6 685.3,55.9 685.3,62.1 685.3,69.3 684.7,77.7 679.6,87.7 659.6,99.5 646.2,113.6 646.2,130.4 654.6,150.4 670.3,174.5 695.3,203.3 731.6,238 772.9,279.9 809.6,330.3 834.4,390.5 852.6,463.2 863,550.1 870.4,654.1 879.4,778.1 890.1,925.2" fill="none" stroke="#ff00ff" stroke-width="3.3" stroke-linejoin="round"/>
<circle cx="685.3" cy="20" r="5.85"/>
<circle cx="685.3" cy="22.1" r="5.85"/>
<circle cx="685.3" cy="24.3" r="5.85"/>
<circle cx="685.3" cy="26.6" r="5.85"/>
<circle cx="685.3" cy="29.1" r="5.85"/>
<circle cx="685.3" cy="31.9" r="5.85"/>
<circle cx="685.3" cy="34.8" r="5.85"/>
<circle cx="685.3" cy="38.1" r="5.85"/>
<circle cx="685.3" cy="41.8" r="5.85"/>
<circle cx="685.3" cy="45.9" r="5.85"/>
<circle cx="685.3" cy="50.6" r="5.85"/>
<circle cx="685.3" cy="55.9" r="5.85"/>
<circle cx="685.3" cy="62.1" r="5.85"/>
<circle cx="685.3" cy="69.3" r="5.85"/>
<circle cx="684.7" cy="77.7" r="5.85"/>
<circle cx="679.6" cy="87.7" r="5.85"/>
<circle cx="659.6" cy="99.5" r="5.85"/>
<circle cx="646.2" cy="113.6" r="5.85"/>
<circle cx="646.2" cy="130.4" r="5.85"/>
<circle cx="654.6" cy="150.4" r="5.85"/>
<circle cx="670.3" cy="174.5" r="5.85"/>
<circle cx="695.3" cy="203.3" r="5.85"/>
<circle cx="731.6" cy="238" r="5.85"/>
<circle cx="772.9" cy="279.9" r="5.85"/>
<circle cx="809.6" cy="330.3" r="5.85"/>
<circle cx="834.4" cy="390.5" r="5.85"/>
<circle cx="852.6" cy="463.2" r="5.85"/>
<circle cx="863" cy="550.1" r="5.85"/>
<circle cx="870.4" cy="654.1" r="5.85"/>
<circle cx="879.4" cy="778.1" r="5.85"/>
</g>
</g>
<g stroke="#000" stroke-width="1.33" fill="none">
<rect x="580.5" y="19.5" width="400" height="795"/>
<line x1="604.5" y1="814.5" x2="604.5" y2="820.8"/>
<line x1="713.5" y1="814.5" x2="713.5" y2="820.8"/>
<line x1="822.5" y1="814.5" x2="822.5" y2="820.8"/>
<line x1="931.5" y1="814.5" x2="931.5" y2="820.8"/>
<line x1="574.2" y1="19.5" x2="580.5" y2="19.5"/>
<line x1="574.2" y1="68.5" x2="580.5" y2="68.5"/>
<line x1="574.2" y1="118.5" x2="580.5" y2="118.5"/>
<line x1="574.2" y1="168.5" x2="580.5" y2="168.5"/>
<line x1="574.2" y1="218.5" x2="580.5" y2="218.5"/>
<line x1="574.2" y1="268.5" x2="580.5" y2="268.5"/>
<line x1="574.2" y1="318.5" x2="580.5" y2="318.5"/>
<line x1="574.2" y1="368.5" x2="580.5" y2="368.5"/>
<line x1="574.2" y1="418.5" x2="580.5" y2="418.5"/>
<line x1="574.2" y1="468.5" x2="580.5" y2="468.5"/>
<line x1="574.2" y1="518.5" x2="580.5" y2="518.5"/>
<line x1="574.2" y1="568.5" x2="580.5" y2="568.5"/>
<line x1="574.2" y1="617.5" x2="580.5" y2="617.5"/>
<line x1="574.2" y1="667.5" x2="580.5" y2="667.5"/>
<line x1="574.2" y1="717.5" x2="580.5" y2="717.5"/>
<line x1="574.2" y1="767.5" x2="580.5" y2="767.5"/>
</g>
<g stroke="#b2b2b2" stroke-width="1" stroke-dasharray="3.08 1.47" fill="none">
<line x1="1110.5" y1="814.3" x2="1110.5" y2="19"/>
<line x1="1195.5" y1="814.3" x2="1195.5" y2="19"/>
<line x1="1280.5" y1="814.3" x2="1280.5" y2="19"/>
<line x1="1365.5" y1="814.3" x2="1365.5" y2="19"/>
<line x1="1450.5" y1="814.3" x2="1450.5" y2="19"/>
<line x1="1073.3" y1="19.5" x2="1473.8" y2="19.5"/>
<line x1="1073.3" y1="68.5" x2="1473.8" y2="68.5"/>
<line x1="1073.3" y1="118.5" x2="1473.8" y2="118.5"/>
<line x1="1073.3" y1="168.5" x2="1473.8" y2="168.5"/>
<line x1="1073.3" y1="218.5" x2="1473.8" y2="218.5"/>
<line x1="1073.3" y1="268.5" x2="1473.8" y2="268.5"/>
<line x1="1073.3" y1="318.5" x2="1473.8" y2="318.5"/>
<line x1="1073.3" y1="368.5" x2="1473.8" y2="368.5"/>
<line x1="1073.3" y1="418.5" x2="1473.8" y2="418.5"/>
<line x1="1073.3" y1="468.5" x2="1473.8" y2="468.5"/>
<line x1="1073.3" y1="518.5" x2="1473.8" y2="518.5"/>
<line x1="1073.3" y1="568.5" x2="1473.8" y2="568.5"/>
<line x1="1073.3" y1="617.5" x2="1473.8" y2="617.5"/>
<line x1="1073.3" y1="667.5" x2="1473.8" y2="667.5"/>
<line x1="1073.3" y1="717.5" x2="1473.8" y2="717.5"/>
<line x1="1073.3" y1="767.5" x2="1473.8" y2="767.5"/>
</g>
<g clip-path="url(#c2)">
<g fill="#00ffff">
<circle cx="1094" cy="25.6" r="3.4"/>
<circle cx="1096.2" cy="36.7" r="3.4"/>
<circle cx="1097.3" cy="47.9" r="3.4"/>
<circle cx="1099" cy="57.9" r="3.4"/>
<circle cx="1100.1" cy="71.3" r="3.4"/>
<circle cx="1101.8" cy="80.2" r="3.4"/>
<circle cx="1106.2" cy="91.9" r="3.4"/>
<circle cx="1114" cy="54" r="3.4"/>
<circle cx="1116.3" cy="61.8" r="3.4"/>
<circle cx="1117.9" cy="71.3" r="3.4"/>
<circle cx="1119" cy="78" r="3.4"/>
<circle cx="1120.2" cy="98" r="3.4"/>
<circle cx="1138" cy="92.4" r="3.4"/>
<circle cx="1145.2" cy="98" r="3.4"/>
<circle cx="1119.6" cy="97.8" r="3.4"/>
<circle cx="1124.6" cy="102.2" r="3.4"/>
<circle cx="1132.4" cy="107.3" r="3.4"/>
<circle cx="1156.3" cy="107.3" r="3.4"/>
<circle cx="1162.4" cy="116.2" r="3.4"/>
<circle cx="1165.8" cy="122.3" r="3.4"/>
<circle cx="1185.3" cy="154.6" r="3.4"/>
<circle cx="1190.3" cy="164.6" r="3.4"/>
<circle cx="1198" cy="179.6" r="3.4"/>
<circle cx="1164.2" cy="116.3" r="3.4"/>
<circle cx="1170.9" cy="126.3" r="3.4"/>
<circle cx="1177" cy="136.3" r="3.4"/>
<circle cx="1182.6" cy="146.3" r="3.4"/>
<circle cx="1187" cy="156.3" r="3.4"/>
<circle cx="1192" cy="166.2" r="3.4"/>
<circle cx="1198.3" cy="176.2" r="3.4"/>
<circle cx="1201.7" cy="186.2" r="3.4"/>
<circle cx="1205.8" cy="196.2" r="3.4"/>
<circle cx="1209.2" cy="206.2" r="3.4"/>
<circle cx="1212.5" cy="216.1" r="3.4"/>
<circle cx="1217" cy="226.1" r="3.4"/>
<circle cx="1220.9" cy="236.1" r="3.4"/>
<circle cx="1224.2" cy="246.1" r="3.4"/>
<circle cx="1227" cy="256.1" r="3.4"/>
<circle cx="1229.8" cy="266.1" r="3.4"/>
<circle cx="1233.1" cy="276" r="3.4"/>
<circle cx="1236.4" cy="286" r="3.4"/>
<circle cx="1238.6" cy="296" r="3.4"/>
<circle cx="1240.3" cy="306" r="3.4"/>
</g>
<g fill="#0000ff" stroke="none">
<polyline points="1098,20 1100.3,30 1102,40 1103.1,49.9 1104.8,59.9 1105.1,69.9 1108.5,79.9 1122.4,89.9 1136.8,99.9 1149.6,109.8 1160.2,119.8 1166.9,129.8 1173,139.8 1178.6,149.8 1183,159.8 1188,169.7 1194.3,179.7 1197.7,189.7 1201.8,199.7 1205.2,209.7 1208.5,219.6 1213,229.6 1216.9,239.6 1220.2,249.6 1223,259.6 1225.8,269.6 1229.1,279.5 1232.4,289.5 1234.6,299.5 1236.3,309.5 1238,319.5 1240.2,329.5 1241.9,339.4 1244.1,349.4 1246.9,359.4 1249.6,369.4 1251.9,379.4 1253,389.4 1255.2,399.3 1256.9,409.3 1258.3,419.3 1259.7,429.3 1260.8,439.3 1262.5,449.2 1263.6,459.2 1264.1,469.2 1264.7,479.2 1266.3,489.2 1267.4,499.2 1269.1,509.1 1270.2,519.1 1272.4,529.1 1273.6,539.1 1274.7,549.1 1276.6,559.1 1277.8,569 1278.2,579 1280.5,589 1281.4,599 1283.6,609 1284.7,618.9 1285.8,628.9 1287.5,638.9 1288.6,648.9 1290.2,658.9 1290.8,668.9 1293,678.8 1294.1,688.8 1295.2,698.8 1296.9,708.8 1298.6,718.8 1299.7,728.8 1301.1,738.7 1301.9,748.7 1303,758.7 1304.7,768.7 1305.8,778.7 1306.9,788.7 1308.6,798.6 1309.7,808.6" fill="none" stroke="#0000ff" stroke-width="3.3" stroke-linejoin="round"/>
<circle cx="1098" cy="20" r="5.85"/>
<circle cx="1100.3" cy="30" r="5.85"/>
<circle cx="1102" cy="40" r="5.85"/>
<circle cx="1103.1" cy="49.9" r="5.85"/>
<circle cx="1104.8" cy="59.9" r="5.85"/>
<circle cx="1105.1" cy="69.9" r="5.85"/>
<circle cx="1108.5" cy="79.9" r="5.85"/>
<circle cx="1122.4" cy="89.9" r="5.85"/>
<circle cx="1136.8" cy="99.9" r="5.85"/>
<circle cx="1149.6" cy="109.8" r="5.85"/>
<circle cx="1160.2" cy="119.8" r="5.85"/>
<circle cx="1166.9" cy="129.8" r="5.85"/>
<circle cx="1173" cy="139.8" r="5.85"/>
<circle cx="1178.6" cy="149.8" r="5.85"/>
<circle cx="1183" cy="159.8" r="5.85"/>
<circle cx="1188" cy="169.7" r="5.85"/>
<circle cx="1194.3" cy="179.7" r="5.85"/>
<circle cx="1197.7" cy="189.7" r="5.85"/>
<circle cx="1201.8" cy="199.7" r="5.85"/>
<circle cx="1205.2" cy="209.7" r="5.85"/>
<circle cx="1208.5" cy="219.6" r="5.85"/>
<circle cx="1213" cy="229.6" r="5.85"/>
<circle cx="1216.9" cy="239.6" r="5.85"/>
<circle cx="1220.2" cy="249.6" r="5.85"/>
<circle cx="1223" cy="259.6" r="5.85"/>
<circle cx="1225.8" cy="269.6" r="5.85"/>
<circle cx="1229.1" cy="279.5" r="5.85"/>
<circle cx="1232.4" cy="289.5" r="5.85"/>
<circle cx="1234.6" cy="299.5" r="5.85"/>
<circle cx="1236.3" cy="309.5" r="5.85"/>
<circle cx="1238" cy="319.5" r="5.85"/>
<circle cx="1240.2" cy="329.5" r="5.85"/>
<circle cx="1241.9" cy="339.4" r="5.85"/>
<circle cx="1244.1" cy="349.4" r="5.85"/>
<circle cx="1246.9" cy="359.4" r="5.85"/>
<circle cx="1249.6" cy="369.4" r="5.85"/>
<circle cx="1251.9" cy="379.4" r="5.85"/>
<circle cx="1253" cy="389.4" r="5.85"/>
<circle cx="1255.2" cy="399.3" r="5.85"/>
<circle cx="1256.9" cy="409.3" r="5.85"/>
<circle cx="1258.3" cy="419.3" r="5.85"/>
<circle cx="1259.7" cy="429.3" r="5.85"/>
<circle cx="1260.8" cy="439.3" r="5.85"/>
<circle cx="1262.5" cy="449.2" r="5.85"/>
<circle cx="1263.6" cy="459.2" r="5.85"/>
<circle cx="1264.1" cy="469.2" r="5.85"/>
<circle cx="1264.7" cy="479.2" r="5.85"/>
<circle cx="1266.3" cy="489.2" r="5.85"/>
<circle cx="1267.4" cy="499.2" r="5.85"/>
<circle cx="1269.1" cy="509.1" r="5.85"/>
<circle cx="1270.2" cy="519.1" r="5.85"/>
<circle cx="1272.4" cy="529.1" r="5.85"/>
<circle cx="1273.6" cy="539.1" r="5.85"/>
<circle cx="1274.7" cy="549.1" r="5.85"/>
<circle cx="1276.6" cy="559.1" r="5.85"/>
<circle cx="1277.8" cy="569" r="5.85"/>
<circle cx="1278.2" cy="579" r="5.85"/>
<circle cx="1280.5" cy="589" r="5.85"/>
<circle cx="1281.4" cy="599" r="5.85"/>
<circle cx="1283.6" cy="609" r="5.85"/>
<circle cx="1284.7" cy="618.9" r="5.85"/>
<circle cx="1285.8" cy="628.9" r="5.85"/>
<circle cx="1287.5" cy="638.9" r="5.85"/>
<circle cx="1288.6" cy="648.9" r="5.85"/>
<circle cx="1290.2" cy="658.9" r="5.85"/>
<circle cx="1290.8" cy="668.9" r="5.85"/>
<circle cx="1293" cy="678.8" r="5.85"/>
<circle cx="1294.1" cy="688.8" r="5.85"/>
<circle cx="1295.2" cy="698.8" r="5.85"/>
<circle cx="1296.9" cy="708.8" r="5.85"/>
<circle cx="1298.6" cy="718.8" r="5.85"/>
<circle cx="1299.7" cy="728.8" r="5.85"/>
<circle cx="1301.1" cy="738.7" r="5.85"/>
<circle cx="1301.9" cy="748.7" r="5.85"/>
<circle cx="1303" cy="758.7" r="5.85"/>
<circle cx="1304.7" cy="768.7" r="5.85"/>
<circle cx="1305.8" cy="778.7" r="5.85"/>
<circle cx="1306.9" cy="788.7" r="5.85"/>
<circle cx="1308.6" cy="798.6" r="5.85"/>
<circle cx="1309.7" cy="808.6" r="5.85"/>
</g>
<g fill="#ff0000" stroke="none">
<polyline points="1098.8,19 1101,23 1102.7,27 1104,31 1105,35 1105.8,39 1106.4,43 1107.1,48.9 1108.2,58.9 1108.8,68.9 1110.5,78.9 1118.2,88.9 1130,98.9 1143.5,108.8 1151.3,118.8 1164.8,138.8 1177,158.8 1188.2,178.7 1198.6,198.7 1206.6,218.7 1221.5,268.6 1239.8,318.5 1256.5,418.3 1267.5,518.1 1281.3,617.9 1294.5,717.8 1306.5,817.6" fill="none" stroke="#ff0000" stroke-width="3.3" stroke-linejoin="round"/>
</g>
<g fill="#ff0000" stroke="none">
<polyline points="1098.8,19 1101,23 1102.7,27 1104,31 1105,35 1105.8,39 1106.4,43 1107.1,48.9 1108.2,58.9 1108.8,68.9 1111.5,78.9 1119.8,88.9 1132,98.9 1145.7,108.8 1153.5,118.8 1166.8,138.8 1179,158.8 1190.2,178.7 1200.6,198.7 1208.2,218.7 1225,268.6 1241.8,318.5 1257.5,418.3 1268,518.1 1282,617.9 1295,717.8 1307,817.6" fill="none" stroke="#ff0000" stroke-width="3.3" stroke-linejoin="round"/>
</g>
<g fill="#ff0000">
<circle cx="1098.8" cy="19" r="5.85"/>
<circle cx="1101" cy="23" r="5.85"/>
<circle cx="1102.7" cy="27" r="5.85"/>
<circle cx="1104" cy="31" r="5.85"/>
<circle cx="1105" cy="35" r="5.85"/>
<circle cx="1105.8" cy="39" r="5.85"/>
<circle cx="1106.4" cy="43" r="5.85"/>
<circle cx="1107.1" cy="48.9" r="5.85"/>
<circle cx="1108.2" cy="58.9" r="5.85"/>
<circle cx="1108.8" cy="68.9" r="5.85"/>
<circle cx="1111" cy="78.9" r="5.85"/>
<circle cx="1119" cy="88.9" r="5.85"/>
<circle cx="1131" cy="98.9" r="5.85"/>
<circle cx="1144.6" cy="108.8" r="5.85"/>
<circle cx="1152.4" cy="118.8" r="5.85"/>
<circle cx="1165.8" cy="138.8" r="5.85"/>
<circle cx="1178" cy="158.8" r="5.85"/>
<circle cx="1189.2" cy="178.7" r="5.85"/>
<circle cx="1199.6" cy="198.7" r="5.85"/>
<circle cx="1207.4" cy="218.7" r="5.85"/>
<circle cx="1223.2" cy="268.6" r="5.85"/>
<circle cx="1240.8" cy="318.5" r="5.85"/>
<circle cx="1257" cy="418.3" r="5.85"/>
<circle cx="1267.8" cy="518.1" r="5.85"/>
<circle cx="1281.7" cy="617.9" r="5.85"/>
<circle cx="1294.8" cy="717.8" r="5.85"/>
<circle cx="1306.8" cy="817.6" r="5.85"/>
</g>
<g fill="#008000" stroke="none">
<polyline points="1096.8,19 1099,23 1100.7,27 1102,31 1103,35 1103.8,39 1104.4,43 1105.1,48.9 1106.2,58.9 1106.8,68.9 1110.5,78.9 1118.5,88.9 1129.6,98.9 1136.8,108.8 1144.8,118.8 1161.3,138.8 1174.7,158.8 1185.8,178.7 1195.7,198.7 1204.1,218.7 1219.6,268.6 1228,318.5 1253.6,418.3 1268.6,518.1 1282.7,617.9 1296.3,717.8 1308,817.6" fill="none" stroke="#008000" stroke-width="3.3" stroke-linejoin="round"/>
<circle cx="1096.8" cy="19" r="5.85"/>
<circle cx="1099" cy="23" r="5.85"/>
<circle cx="1100.7" cy="27" r="5.85"/>
<circle cx="1102" cy="31" r="5.85"/>
<circle cx="1103" cy="35" r="5.85"/>
<circle cx="1103.8" cy="39" r="5.85"/>
<circle cx="1104.4" cy="43" r="5.85"/>
<circle cx="1105.1" cy="48.9" r="5.85"/>
<circle cx="1106.2" cy="58.9" r="5.85"/>
<circle cx="1106.8" cy="68.9" r="5.85"/>
<circle cx="1110.5" cy="78.9" r="5.85"/>
<circle cx="1118.5" cy="88.9" r="5.85"/>
<circle cx="1129.6" cy="98.9" r="5.85"/>
<circle cx="1136.8" cy="108.8" r="5.85"/>
<circle cx="1144.8" cy="118.8" r="5.85"/>
<circle cx="1161.3" cy="138.8" r="5.85"/>
<circle cx="1174.7" cy="158.8" r="5.85"/>
<circle cx="1185.8" cy="178.7" r="5.85"/>
<circle cx="1195.7" cy="198.7" r="5.85"/>
<circle cx="1204.1" cy="218.7" r="5.85"/>
<circle cx="1219.6" cy="268.6" r="5.85"/>
<circle cx="1228" cy="318.5" r="5.85"/>
<circle cx="1253.6" cy="418.3" r="5.85"/>
<circle cx="1268.6" cy="518.1" r="5.85"/>
<circle cx="1282.7" cy="617.9" r="5.85"/>
<circle cx="1296.3" cy="717.8" r="5.85"/>
<circle cx="1308" cy="817.6" r="5.85"/>
</g>
<g fill="#ff00ff" stroke="none">
<polyline points="1114.8,20 1117.5,22.1 1119.5,24.3 1120.8,26.6 1121.8,29.1 1122.8,31.9 1123.7,34.8 1124.6,38.1 1125.4,41.8 1126.2,45.9 1126.8,50.6 1127.3,55.9 1127.7,62.1 1128.1,69.3 1128.6,77.7 1131.8,87.7 1138.5,99.5 1147.4,113.6 1157.4,130.4 1168.6,150.4 1179.7,174.5 1191.6,203.3 1205.5,238 1220.4,279.9 1233.5,330.3 1246.3,390.5 1260.6,463.2 1273.8,550.1 1288.7,654.1 1305.5,778.1 1325.4,925.2" fill="none" stroke="#ff00ff" stroke-width="3.3" stroke-linejoin="round"/>
<circle cx="1114.8" cy="20" r="5.85"/>
<circle cx="1117.5" cy="22.1" r="5.85"/>
<circle cx="1119.5" cy="24.3" r="5.85"/>
<circle cx="1120.8" cy="26.6" r="5.85"/>
<circle cx="1121.8" cy="29.1" r="5.85"/>
<circle cx="1122.8" cy="31.9" r="5.85"/>
<circle cx="1123.7" cy="34.8" r="5.85"/>
<circle cx="1124.6" cy="38.1" r="5.85"/>
<circle cx="1125.4" cy="41.8" r="5.85"/>
<circle cx="1126.2" cy="45.9" r="5.85"/>
<circle cx="1126.8" cy="50.6" r="5.85"/>
<circle cx="1127.3" cy="55.9" r="5.85"/>
<circle cx="1127.7" cy="62.1" r="5.85"/>
<circle cx="1128.1" cy="69.3" r="5.85"/>
<circle cx="1128.6" cy="77.7" r="5.85"/>
<circle cx="1131.8" cy="87.7" r="5.85"/>
<circle cx="1138.5" cy="99.5" r="5.85"/>
<circle cx="1147.4" cy="113.6" r="5.85"/>
<circle cx="1157.4" cy="130.4" r="5.85"/>
<circle cx="1168.6" cy="150.4" r="5.85"/>
<circle cx="1179.7" cy="174.5" r="5.85"/>
<circle cx="1191.6" cy="203.3" r="5.85"/>
<circle cx="1205.5" cy="238" r="5.85"/>
<circle cx="1220.4" cy="279.9" r="5.85"/>
<circle cx="1233.5" cy="330.3" r="5.85"/>
<circle cx="1246.3" cy="390.5" r="5.85"/>
<circle cx="1260.6" cy="463.2" r="5.85"/>
<circle cx="1273.8" cy="550.1" r="5.85"/>
<circle cx="1288.7" cy="654.1" r="5.85"/>
<circle cx="1305.5" cy="778.1" r="5.85"/>
</g>
</g>
<g stroke="#000" stroke-width="1.33" fill="none">
<rect x="1073.5" y="19.5" width="400" height="795"/>
<line x1="1110.5" y1="814.5" x2="1110.5" y2="820.8"/>
<line x1="1195.5" y1="814.5" x2="1195.5" y2="820.8"/>
<line x1="1280.5" y1="814.5" x2="1280.5" y2="820.8"/>
<line x1="1365.5" y1="814.5" x2="1365.5" y2="820.8"/>
<line x1="1450.5" y1="814.5" x2="1450.5" y2="820.8"/>
<line x1="1067.2" y1="19.5" x2="1073.5" y2="19.5"/>
<line x1="1067.2" y1="68.5" x2="1073.5" y2="68.5"/>
<line x1="1067.2" y1="118.5" x2="1073.5" y2="118.5"/>
<line x1="1067.2" y1="168.5" x2="1073.5" y2="168.5"/>
<line x1="1067.2" y1="218.5" x2="1073.5" y2="218.5"/>
<line x1="1067.2" y1="268.5" x2="1073.5" y2="268.5"/>
<line x1="1067.2" y1="318.5" x2="1073.5" y2="318.5"/>
<line x1="1067.2" y1="368.5" x2="1073.5" y2="368.5"/>
<line x1="1067.2" y1="418.5" x2="1073.5" y2="418.5"/>
<line x1="1067.2" y1="468.5" x2="1073.5" y2="468.5"/>
<line x1="1067.2" y1="518.5" x2="1073.5" y2="518.5"/>
<line x1="1067.2" y1="568.5" x2="1073.5" y2="568.5"/>
<line x1="1067.2" y1="617.5" x2="1073.5" y2="617.5"/>
<line x1="1067.2" y1="667.5" x2="1073.5" y2="667.5"/>
<line x1="1067.2" y1="717.5" x2="1073.5" y2="717.5"/>
<line x1="1067.2" y1="767.5" x2="1073.5" y2="767.5"/>
</g>
<g filter="url(#tf)">
<text x="124.5" y="841.7" font-size="17.7" text-anchor="middle" textLength="26.5" lengthAdjust="spacingAndGlyphs">5.0</text>
<text x="183.5" y="841.7" font-size="17.7" text-anchor="middle" textLength="26.5" lengthAdjust="spacingAndGlyphs">7.5</text>
<text x="242.5" y="841.7" font-size="17.7" text-anchor="middle" textLength="37.1" lengthAdjust="spacingAndGlyphs">10.0</text>
<text x="301.5" y="841.7" font-size="17.7" text-anchor="middle" textLength="37.1" lengthAdjust="spacingAndGlyphs">12.5</text>
<text x="360.5" y="841.7" font-size="17.7" text-anchor="middle" textLength="37.1" lengthAdjust="spacingAndGlyphs">15.0</text>
<text x="419.5" y="841.7" font-size="17.7" text-anchor="middle" textLength="37.1" lengthAdjust="spacingAndGlyphs">17.5</text>
<text x="478.5" y="841.7" font-size="17.7" text-anchor="middle" textLength="37.1" lengthAdjust="spacingAndGlyphs">20.0</text>
<text x="604.5" y="841.7" font-size="17.7" text-anchor="middle" textLength="37.1" lengthAdjust="spacingAndGlyphs">33.0</text>
<text x="713.5" y="841.7" font-size="17.7" text-anchor="middle" textLength="37.1" lengthAdjust="spacingAndGlyphs">33.5</text>
<text x="822.5" y="841.7" font-size="17.7" text-anchor="middle" textLength="37.1" lengthAdjust="spacingAndGlyphs">34.0</text>
<text x="931.5" y="841.7" font-size="17.7" text-anchor="middle" textLength="37.1" lengthAdjust="spacingAndGlyphs">34.5</text>
<text transform="translate(1108.9,850.4) rotate(-45)" y="6.1" font-size="17.7" text-anchor="middle" textLength="42.4" lengthAdjust="spacingAndGlyphs">1024</text>
<text transform="translate(1193.9,850.4) rotate(-45)" y="6.1" font-size="17.7" text-anchor="middle" textLength="42.4" lengthAdjust="spacingAndGlyphs">1026</text>
<text transform="translate(1278.9,850.4) rotate(-45)" y="6.1" font-size="17.7" text-anchor="middle" textLength="42.4" lengthAdjust="spacingAndGlyphs">1028</text>
<text transform="translate(1363.8,850.4) rotate(-45)" y="6.1" font-size="17.7" text-anchor="middle" textLength="42.4" lengthAdjust="spacingAndGlyphs">1030</text>
<text transform="translate(1448.8,850.4) rotate(-45)" y="6.1" font-size="17.7" text-anchor="middle" textLength="42.4" lengthAdjust="spacingAndGlyphs">1032</text>
<text x="75.2" y="26.6" font-size="17.7" text-anchor="end" textLength="10.6" lengthAdjust="spacingAndGlyphs">0</text>
<text x="75.2" y="75.6" font-size="17.7" text-anchor="end" textLength="21.2" lengthAdjust="spacingAndGlyphs">25</text>
<text x="75.2" y="125.6" font-size="17.7" text-anchor="end" textLength="21.2" lengthAdjust="spacingAndGlyphs">50</text>
<text x="75.2" y="175.6" font-size="17.7" text-anchor="end" textLength="21.2" lengthAdjust="spacingAndGlyphs">75</text>
<text x="75.2" y="225.6" font-size="17.7" text-anchor="end" textLength="31.8" lengthAdjust="spacingAndGlyphs">100</text>
<text x="75.2" y="275.6" font-size="17.7" text-anchor="end" textLength="31.8" lengthAdjust="spacingAndGlyphs">125</text>
<text x="75.2" y="325.6" font-size="17.7" text-anchor="end" textLength="31.8" lengthAdjust="spacingAndGlyphs">150</text>
<text x="75.2" y="375.6" font-size="17.7" text-anchor="end" textLength="31.8" lengthAdjust="spacingAndGlyphs">175</text>
<text x="75.2" y="425.6" font-size="17.7" text-anchor="end" textLength="31.8" lengthAdjust="spacingAndGlyphs">200</text>
<text x="75.2" y="475.6" font-size="17.7" text-anchor="end" textLength="31.8" lengthAdjust="spacingAndGlyphs">225</text>
<text x="75.2" y="525.6" font-size="17.7" text-anchor="end" textLength="31.8" lengthAdjust="spacingAndGlyphs">250</text>
<text x="75.2" y="575.6" font-size="17.7" text-anchor="end" textLength="31.8" lengthAdjust="spacingAndGlyphs">275</text>
<text x="75.2" y="624.6" font-size="17.7" text-anchor="end" textLength="31.8" lengthAdjust="spacingAndGlyphs">300</text>
<text x="75.2" y="674.6" font-size="17.7" text-anchor="end" textLength="31.8" lengthAdjust="spacingAndGlyphs">325</text>
<text x="75.2" y="724.6" font-size="17.7" text-anchor="end" textLength="31.8" lengthAdjust="spacingAndGlyphs">350</text>
<text x="75.2" y="774.6" font-size="17.7" text-anchor="end" textLength="31.8" lengthAdjust="spacingAndGlyphs">375</text>
</g>
<g font-weight="bold" filter="url(#tf)">
<text x="177.6" y="872.4" font-size="23.8"><tspan textLength="181" lengthAdjust="spacingAndGlyphs">Temperature (</tspan><tspan x="361.2" dy="-8.6" font-size="15.5" font-weight="normal" font-style="italic">o</tspan><tspan x="372.2" dy="8.6" font-weight="normal" font-style="italic" textLength="18.6" lengthAdjust="spacingAndGlyphs">C</tspan><tspan x="389.2" textLength="8" lengthAdjust="spacingAndGlyphs">)</tspan></text>
<text x="733.4" y="869.8" font-size="23.8" textLength="95" lengthAdjust="spacingAndGlyphs">Salinity</text>
<text x="1167" y="895.7" font-size="23.8" textLength="213.4" lengthAdjust="spacingAndGlyphs">Density (kg m-3)</text>
<text transform="translate(30.3,482.4) rotate(-90)" font-size="23.8" textLength="128.4" lengthAdjust="spacingAndGlyphs">Depth (m)</text>
</g>
<g font-style="italic" font-size="17" filter="url(#tf)">
<text x="423.8" y="917.7" textLength="54.2" lengthAdjust="spacingAndGlyphs">Ocean</text>
<text x="484.3" y="917.7" textLength="40.8" lengthAdjust="spacingAndGlyphs">Heat</text>
<text x="531.4" y="917.7" textLength="66.7" lengthAdjust="spacingAndGlyphs">Content</text>
<text x="606.3" y="917.7" textLength="84" lengthAdjust="spacingAndGlyphs">(kJ/cm^2)</text>
<text x="698.5" y="917.7" textLength="5.3" lengthAdjust="spacingAndGlyphs">-</text>
<text x="709.1" y="917.7" textLength="57.1" lengthAdjust="spacingAndGlyphs">Glider:</text>
<text x="772.5" y="917.7" textLength="35" lengthAdjust="spacingAndGlyphs">N/A,</text>
<text x="819.9" y="917.7" textLength="62.5" lengthAdjust="spacingAndGlyphs">RTOFS:</text>
<text x="888.7" y="917.7" textLength="35" lengthAdjust="spacingAndGlyphs">N/A,</text>
<text x="936.7" y="917.7" textLength="48.5" lengthAdjust="spacingAndGlyphs">ESPC:</text>
<text x="991.5" y="917.7" textLength="35" lengthAdjust="spacingAndGlyphs">N/A,</text>
<text x="1039.5" y="917.7" textLength="68.7" lengthAdjust="spacingAndGlyphs">CMEMS:</text>
<text x="1115" y="917.7" textLength="36" lengthAdjust="spacingAndGlyphs">N/A,</text>
</g>
<g font-weight="bold" font-size="23.8" filter="url(#tf)">
<text x="1525.7" y="36.7" textLength="151.7" lengthAdjust="spacingAndGlyphs">Comparison</text>
<text x="1684.7" y="36.7" textLength="70" lengthAdjust="spacingAndGlyphs">Date:</text>
<text x="1762" y="36.7" textLength="144.5" lengthAdjust="spacingAndGlyphs">2025-10-29</text>
<text x="1525.7" y="89.9" textLength="86.5" lengthAdjust="spacingAndGlyphs">Glider:</text>
<text x="1619.4" y="89.9" textLength="77.3" lengthAdjust="spacingAndGlyphs">sp030</text>
<text x="1525.7" y="116.5" textLength="107" lengthAdjust="spacingAndGlyphs">Profiles:</text>
<text x="1640" y="116.5" textLength="16.1" lengthAdjust="spacingAndGlyphs">9</text>
<text x="1525.7" y="143.1" textLength="68.3" lengthAdjust="spacingAndGlyphs">First:</text>
<text x="1601.3" y="143.1" textLength="144.3" lengthAdjust="spacingAndGlyphs">2025-10-29</text>
<text x="1753.6" y="143.1" textLength="112.8" lengthAdjust="spacingAndGlyphs">01:06:00</text>
<text x="1525.7" y="169.6" textLength="63.5" lengthAdjust="spacingAndGlyphs">Last:</text>
<text x="1596.5" y="169.6" textLength="144.5" lengthAdjust="spacingAndGlyphs">2025-10-29</text>
<text x="1748.7" y="169.6" textLength="112.9" lengthAdjust="spacingAndGlyphs">21:32:45</text>
<text x="1525.7" y="196.2" textLength="105.8" lengthAdjust="spacingAndGlyphs">Method:</text>
<text x="1639.2" y="196.2" textLength="227.9" lengthAdjust="spacingAndGlyphs">Nearest-Neighbor</text>
</g>
<rect x="1566.7" y="259.1" width="399.8" height="314.6" fill="#97b6e1"/>
<g clip-path="url(#cm)">
<polygon points="1668.2,258.7 1671.9,268.2 1676.4,277.3 1681,286.4 1685.5,297.3 1688.2,303.7 1694.6,308.2 1701.9,314.6 1706.4,321.9 1705.5,328.3 1701.9,331 1694.6,329.2 1700.1,333.7 1705.5,337.4 1711.9,342.8 1718.3,341.9 1722.8,346.5 1727.4,351 1730.1,357.4 1729.2,366.5 1731,372 1736.5,373.8 1741.9,379.2 1747.4,383.8 1751.9,388.3 1754.7,392.9 1760.1,390.2 1761,385.6 1756.5,381.1 1755.6,375.6 1751,377.4 1748.3,372 1745.6,366.5 1742.8,359.2 1739.2,352.8 1736.5,346.5 1732.8,341 1727.4,332.8 1722.8,325.5 1720.1,319.2 1715.5,313.7 1711.9,308.2 1705.5,302.8 1701,295.5 1699.2,288.2 1697.3,280.9 1697.3,275.5 1702.8,277.3 1709.2,278.2 1713.7,281.9 1718.3,283.7 1719.2,290 1721.9,297.3 1725.5,304.6 1728.3,309.2 1727.4,315.5 1731,315.5 1734.6,320.1 1739.2,324.6 1745.6,327.4 1749.2,331.9 1751,336.5 1756.5,341 1761,344.6 1764.7,349.2 1762,353.7 1765.6,358.3 1771.1,361 1776.5,366.5 1782,372 1787.4,377.4 1792.9,382.9 1798.4,390.2 1802.9,395.6 1805.1,400 1808.1,406.1 1811.2,411.2 1809.2,417.3 1805.1,420.3 1810.2,421.4 1805.1,424.4 1808.1,430.5 1813.2,436.6 1821.4,440.7 1827.5,445.8 1831.5,449.8 1839.7,452.5 1848.8,454.5 1853.9,459 1862.1,464.1 1870.2,467.1 1876.3,470.2 1885.4,472.2 1892.6,476.3 1898.7,478.9 1905.8,480.3 1912.9,482.8 1919,480.3 1927.1,476.9 1935.3,475.9 1943.4,478.3 1951.6,484.4 1959.7,492.6 1966.4,498.7 1969.5,498.7 1969.5,444.8 1966.4,444.8 1959.7,445.8 1951.6,447.8 1943.4,450.4 1936.3,451.9 1930.2,445.2 1921,444.3 1917,438.6 1913.9,430.5 1908.8,423.4 1903.8,416.3 1900.7,408.1 1897.7,400 1897.7,390.9 1898.3,380.8 1899.7,370.8 1902.7,362.7 1905.7,353.7 1905.1,348.6 1903.7,340.6 1904.7,332.5 1908.8,326.5 1914.8,321.5 1920.8,318.4 1926.9,314.4 1930.9,310.4 1937.9,306.4 1943,304.3 1949,302.7 1957.1,303.3 1966.7,305.4 1969.5,305.4 1969.5,256.1 1668.2,256.1" fill="#d2b48c" stroke="none"/>
<g fill="none" stroke="#97b6e1" stroke-width="1.3" stroke-linejoin="round">
<polyline points="1701.9,259.1 1694.6,268.2 1693.7,272.8 1697.3,274.6"/>
<polyline points="1701.9,262.7 1709.2,261.3 1716.4,259.1"/>
<polyline points="1755.6,258.7 1760.1,261.8 1767.4,263.7 1771.1,260"/>
<polyline points="1786.5,258.7 1791.1,268.2 1793.8,272.8"/>
<polyline points="1887.6,259.1 1899.7,268.1 1906.7,280.2 1916.8,294.3 1919.8,304.3 1926.9,314.4"/>
<polyline points="1864.5,259.1 1870.5,260.1"/>
<polyline points="1868.5,403 1876.6,408 1886.6,405 1897.7,401"/>
<polyline points="1810.1,407 1817.2,407 1824.2,415.1 1832.3,417.1 1839.3,426.1"/>
<polyline points="1868.2,403.1 1874.3,407.7 1882.4,408.1 1890.5,404.5 1897.6,401"/>
<polyline points="1957.7,447.2 1961.7,449.8 1964.8,454.9"/>
<polyline points="1793,274.2 1802.1,283.2 1814.2,291.3 1817.2,300.3 1823.2,307.4 1833.3,312.8 1838.3,307.4 1843.3,302.3 1854.4,302.7 1860.5,307.4 1866.5,316.4 1872.5,325.5 1877.6,332.5 1879.6,340.6 1882.6,346.6 1890.6,349.6 1899.7,352.7 1905.7,353.7" stroke-width="2.2"/>
</g>
<g fill="none" stroke="#000" stroke-width="1.5">
<polyline points="1765.6,259.1 1765.6,281.9"/>
<polyline points="1794.5,272.6 1836.7,272.6 1836.7,259.1"/>
<polyline points="1942,259.1 1943,272.1 1947,282.2 1946.6,292.3 1944.6,303.3"/>
</g>
<g fill="none" stroke="#000" stroke-width="1.4" stroke-dasharray="6 2.7">
<polyline points="1670,265.5 1701,262.4"/>
<polyline points="1698.2,266.4 1742.8,281.9 1774.7,281.9 1775.6,276.4 1792.9,275.5 1793,274.2 1802.1,283.2 1814.2,291.3 1817.2,300.3 1823.2,307.4 1833.3,312.8 1838.3,307.4 1843.3,302.3 1854.4,302.7 1860.5,307.4 1866.5,316.4 1872.5,325.5 1877.6,332.5 1879.6,340.6 1882.6,346.6 1890.6,349.6 1899.7,352.7 1905.7,353.7"/>
<polyline points="1965.4,480.3 1963.8,487.5 1964.4,495.6"/>
</g>
<g fill="none" stroke="#000" stroke-width="2.2" stroke-linejoin="round">
<polyline points="1668.2,258.7 1669.4,261 1670.5,263.3 1670.7,265.9 1671.9,268.2 1673.6,270.2 1674.1,272.8 1675.4,274.9 1676.4,277.3 1678.1,279.3 1678.7,281.9 1680.4,283.8 1681,286.4 1682,288.5 1683.4,290.5 1684.3,292.7 1684.7,295.1 1685.5,297.3 1686,299.6 1687.8,301.3 1688.2,303.7 1690.6,304.9 1692.4,306.9 1694.6,308.2 1696,310.3 1698.2,311.5 1700.2,312.9 1701.9,314.6 1702.8,317.4 1705.5,319.1 1706.4,321.9 1705.4,325 1705.5,328.3 1703.9,329.9 1701.9,331 1699.3,330.9 1696.9,330.3 1694.6,329.2 1696.6,330.5 1697.9,332.6 1700.1,333.7 1703.1,335.1 1705.5,337.4 1707.6,339.3 1709.6,341.2 1711.9,342.8 1715.1,342.2 1718.3,341.9 1720.5,344.2 1722.8,346.5 1725.6,348.3 1727.4,351 1728.9,352.9 1729.6,355.1 1730.1,357.4 1729.6,359.6 1729.8,362 1729.7,364.2 1729.2,366.5 1730,369.3 1731,372 1733.8,372.8 1736.5,373.8 1738.5,375.4 1739.8,377.7 1741.9,379.2 1743.6,381 1745.8,382 1747.4,383.8 1749.6,386.1 1751.9,388.3 1753.3,390.6 1754.7,392.9 1757.7,392 1760.1,390.2 1760.9,387.9 1761,385.6 1758.5,383.6 1756.5,381.1 1756.7,378.2 1755.6,375.6 1753.5,377 1751,377.4 1749.6,374.7 1748.3,372 1747.3,369 1745.6,366.5 1744.2,364.2 1743.7,361.6 1742.8,359.2 1741,357.4 1740.6,354.8 1739.2,352.8 1738.7,350.6 1737.5,348.5 1736.5,346.5 1735.1,343.4 1732.8,341 1731.2,339.1 1730.3,336.8 1728.9,334.8 1727.4,332.8 1726,330.3 1724.3,328 1722.8,325.5 1722.4,323.2 1721.6,321 1720.1,319.2 1718.5,317.4 1717.2,315.4 1715.5,313.7 1713.2,311.3 1711.9,308.2 1710,306.2 1707.8,304.4 1705.5,302.8 1704.6,300 1702.9,297.7 1701,295.5 1700.1,293.2 1699.6,290.7 1699.2,288.2 1698.8,285.7 1697.2,283.5 1697.3,280.9 1697.3,278.2 1697.3,275.5 1700.2,275.9 1702.8,277.3 1706.1,277.2 1709.2,278.2 1711.9,279.5 1713.7,281.9 1715.8,283.1 1718.3,283.7 1719.3,286.8 1719.2,290 1720.4,292.3 1721.2,294.8 1721.9,297.3 1722.6,300 1724.9,301.9 1725.5,304.6 1727,306.8 1728.3,309.2 1727.7,312.3 1727.4,315.5 1731,315.5 1732.4,318.2 1734.6,320.1 1736.6,322.7 1739.2,324.6 1741.1,326 1743.6,326.1 1745.6,327.4 1747.5,329.6 1749.2,331.9 1750.3,334.1 1751,336.5 1752.5,338.4 1754.2,340 1756.5,341 1759.1,342.4 1761,344.6 1763.2,346.6 1764.7,349.2 1763.7,351.7 1762,353.7 1764.1,355.8 1765.6,358.3 1768.3,359.6 1771.1,361 1772.8,362.9 1774.9,364.4 1776.5,366.5 1778.9,367.8 1780.2,370 1782,372 1783.9,373.6 1785.5,375.7 1787.4,377.4 1788.8,379.7 1790.9,381.3 1792.9,382.9 1794.2,384.7 1795.5,386.6 1796.8,388.5 1798.4,390.2 1800.4,391.5 1800.9,394.2 1802.9,395.6 1803.6,398 1805.1,400 1805.6,402.3 1806.7,404.3 1808.1,406.1 1809.8,408.6 1811.2,411.2 1810.3,414.3 1809.2,417.3 1807.5,419.3 1805.1,420.3 1807.6,421 1810.2,421.4 1808,423.4 1805.1,424.4 1806.7,426.2 1807.5,428.3 1808.1,430.5 1810.2,432.2 1811.7,434.4 1813.2,436.6 1815.6,437 1817.6,438 1819.6,439.2 1821.4,440.7 1823.8,441.9 1825.6,443.9 1827.5,445.8 1830,447.3 1831.5,449.8 1834.1,451.3 1836.9,451.8 1839.7,452.5 1842.1,452.5 1844.3,453.1 1846.6,453.8 1848.8,454.5 1850.7,455.9 1852.6,457.1 1853.9,459 1855.7,460.7 1857.6,462.2 1860,462.8 1862.1,464.1 1864.8,465.1 1867.7,465.5 1870.2,467.1 1872.5,467.6 1874.4,469 1876.3,470.2 1878.7,470.3 1880.8,471.7 1883.3,471.2 1885.4,472.2 1888.2,472.9 1889.9,475.5 1892.6,476.3 1894.6,477.2 1896.8,477.6 1898.7,478.9 1901,479.5 1903.6,479.2 1905.8,480.3 1908.1,481.2 1910.3,482.7 1912.9,482.8 1916.2,482.1 1919,480.3 1921.2,479.8 1922.9,478.3 1925,477.6 1927.1,476.9 1929.8,476.1 1932.6,476.6 1935.3,475.9 1938,476.7 1940.6,477.9 1943.4,478.3 1945.6,479.6 1947.7,481 1949.2,483.3 1951.6,484.4 1952.7,486.6 1954.4,488 1956.1,489.6 1957.7,491.3 1959.7,492.6 1961.1,494.3 1963.3,495.3 1964.7,497.2 1966.4,498.7"/>
<polyline points="1966.4,444.8 1964.2,445.3 1962,446.1 1959.7,445.8 1957.2,447.1 1954.3,447.4 1951.6,447.8 1949,449 1946,449.3 1943.4,450.4 1940.9,450.3 1938.7,451.5 1936.3,451.9 1935.3,449.8 1933.8,448 1932.2,446.4 1930.2,445.2 1927.9,445.2 1925.6,445.2 1923.3,445 1921,444.3 1919.3,442.7 1918,440.8 1917,438.6 1916.1,435.9 1915.5,433 1913.9,430.5 1912.6,427.8 1910.5,425.8 1908.8,423.4 1907.3,420.9 1905.8,418.4 1903.8,416.3 1902.2,413.8 1901.9,410.8 1900.7,408.1 1900.3,405.2 1899.1,402.5 1897.7,400 1898.1,397.7 1897.7,395.4 1897.2,393.2 1897.7,390.9 1898.3,388.4 1897.7,385.9 1898.6,383.4 1898.3,380.8 1899.3,378.4 1898.8,375.8 1899.2,373.3 1899.7,370.8 1901.3,368.3 1902,365.5 1902.7,362.7 1903,360.3 1903.7,358 1904.5,355.8 1905.7,353.7 1906,351.1 1905.1,348.6 1905.1,345.9 1903.7,343.4 1903.7,340.6 1904.5,338 1905.1,335.3 1904.7,332.5 1906.3,330.6 1907.2,328.4 1908.8,326.5 1910.8,324.9 1912.4,322.7 1914.8,321.5 1916.5,319.8 1919.1,320.1 1920.8,318.4 1923,317.3 1924.9,315.8 1926.9,314.4 1929.3,312.9 1930.9,310.4 1933.2,309 1935.9,308.2 1937.9,306.4 1940.6,305.8 1943,304.3 1945.9,303.1 1949,302.7 1951.7,302.6 1954.4,302.8 1957.1,303.3 1959.6,303.5 1961.9,304.5 1964.4,304.5 1966.7,305.4"/>
<polyline points="1943.6,301.6 1941.1,302.5 1938.5,303.2 1936.1,304.9 1933.3,305.3 1931.1,306.2 1929.9,308.3 1928.4,310.2 1926.5,311.7 1923.9,313.1 1921.3,314.3 1919.2,315 1917,315.4 1915.3,316.9 1913.7,318.2 1911.5,318.5 1910.2,320.3 1908.8,321.7 1907.3,323.1 1905.9,324.6 1904.4,327.1 1902.9,329.7 1902.9,332.6 1901.2,334.9 1901.1,337.8 1900.8,340.6 1901.8,342.5 1902.5,344.4 1902.1,346.6 1902.3,349.3 1903.6,351.6" stroke-width="4.6"/>
</g>
<g fill="#000">
<ellipse cx="1932" cy="303.6" rx="3.2" ry="2.4"/>
<ellipse cx="1914" cy="317.2" rx="4.0" ry="2.2"/>
<ellipse cx="1908.5" cy="322.5" rx="2.6" ry="2.0"/>
<ellipse cx="1901.2" cy="327.8" rx="2.6" ry="2.0"/>
<ellipse cx="1899.2" cy="336" rx="2.6" ry="2.2"/>
<ellipse cx="1900.8" cy="410.5" rx="1.8" ry="3.0"/>
<ellipse cx="1730.6" cy="366" rx="1.8" ry="4.5"/>
<ellipse cx="1753" cy="379.5" rx="2.0" ry="1.5"/>
<ellipse cx="1807.8" cy="418.9" rx="2.2" ry="1.3"/>
<ellipse cx="1706.8" cy="328" rx="2.6" ry="1.8"/>
<ellipse cx="1943.8" cy="300.8" rx="1.6" ry="2.6"/>
<path d="M1899.2 358.6 L1902.4 357.8 L1899.6 371 L1897.2 371.5 L1897.2 362 Z" fill="#44546c" stroke="#000" stroke-width="0.8"/>
<ellipse cx="1656.7" cy="312.8" rx="1.6" ry="2.8" transform="rotate(-15 1656.7 312.8)"/>
<ellipse cx="1692" cy="323.5" rx="2.2" ry="3.0" transform="rotate(-20 1692 323.5)"/>
<ellipse cx="1689" cy="321.2" rx="1.0" ry="1.0" transform="rotate(0 1689 321.2)"/>
<ellipse cx="1654.9" cy="260.9" rx="1.2" ry="1.0" transform="rotate(0 1654.9 260.9)"/>
<ellipse cx="1714" cy="310" rx="1.8" ry="5.5" transform="rotate(-35 1714 310)"/>
<ellipse cx="1726.3" cy="312.6" rx="1.6" ry="2.6" transform="rotate(0 1726.3 312.6)"/>
<ellipse cx="1795.2" cy="409.2" rx="1.2" ry="4.2" transform="rotate(-48 1795.2 409.2)"/>
<ellipse cx="1743" cy="443.8" rx="1.9" ry="1.9" transform="rotate(0 1743 443.8)"/>
<ellipse cx="1745" cy="437.7" rx="1.0" ry="1.0" transform="rotate(0 1745 437.7)"/>
</g>
<g fill="#6f7f99">
<circle cx="1763.4" cy="546.5" r="0.9"/>
<circle cx="1686.5" cy="366.4" r="0.9"/>
<circle cx="1962.5" cy="417.3" r="0.9"/>
<circle cx="1802.5" cy="405.5" r="0.9"/>
</g>
</g>
<circle cx="1636" cy="264.9" r="5.1" fill="#000"/>
<circle cx="1635.3" cy="263.7" r="3.9" fill="#ff0000" stroke="#000" stroke-width="0.9"/>
<rect x="1566.7" y="259.1" width="399.8" height="314.6" fill="none" stroke="#000" stroke-width="1.33"/>
<g stroke="#000" stroke-width="3.33">
<line x1="1578.7" y1="259.1" x2="1578.7" y2="250.3"/>
<line x1="1578.7" y1="573.7" x2="1578.7" y2="582.5"/>
<line x1="1637.5" y1="259.1" x2="1637.5" y2="250.3"/>
<line x1="1637.5" y1="573.7" x2="1637.5" y2="582.5"/>
<line x1="1696.3" y1="259.1" x2="1696.3" y2="250.3"/>
<line x1="1696.3" y1="573.7" x2="1696.3" y2="582.5"/>
<line x1="1755.1" y1="259.1" x2="1755.1" y2="250.3"/>
<line x1="1755.1" y1="573.7" x2="1755.1" y2="582.5"/>
<line x1="1813.9" y1="259.1" x2="1813.9" y2="250.3"/>
<line x1="1813.9" y1="573.7" x2="1813.9" y2="582.5"/>
<line x1="1872.7" y1="259.1" x2="1872.7" y2="250.3"/>
<line x1="1872.7" y1="573.7" x2="1872.7" y2="582.5"/>
<line x1="1931.5" y1="259.1" x2="1931.5" y2="250.3"/>
<line x1="1931.5" y1="573.7" x2="1931.5" y2="582.5"/>
<line x1="1566.7" y1="552" x2="1557.9" y2="552"/>
<line x1="1966.5" y1="552" x2="1975.3" y2="552"/>
<line x1="1566.7" y1="491.8" x2="1557.9" y2="491.8"/>
<line x1="1966.5" y1="491.8" x2="1975.3" y2="491.8"/>
<line x1="1566.7" y1="430.1" x2="1557.9" y2="430.1"/>
<line x1="1966.5" y1="430.1" x2="1975.3" y2="430.1"/>
<line x1="1566.7" y1="366.4" x2="1557.9" y2="366.4"/>
<line x1="1966.5" y1="366.4" x2="1975.3" y2="366.4"/>
<line x1="1566.7" y1="300.1" x2="1557.9" y2="300.1"/>
<line x1="1966.5" y1="300.1" x2="1975.3" y2="300.1"/>
</g>
<g stroke="#000" stroke-width="1.8">
<line x1="1566.9" y1="259.1" x2="1566.9" y2="255.8"/>
<line x1="1566.9" y1="573.7" x2="1566.9" y2="577"/>
<line x1="1590.5" y1="259.1" x2="1590.5" y2="255.8"/>
<line x1="1590.5" y1="573.7" x2="1590.5" y2="577"/>
<line x1="1602.2" y1="259.1" x2="1602.2" y2="255.8"/>
<line x1="1602.2" y1="573.7" x2="1602.2" y2="577"/>
<line x1="1614" y1="259.1" x2="1614" y2="255.8"/>
<line x1="1614" y1="573.7" x2="1614" y2="577"/>
<line x1="1625.7" y1="259.1" x2="1625.7" y2="255.8"/>
<line x1="1625.7" y1="573.7" x2="1625.7" y2="577"/>
<line x1="1649.3" y1="259.1" x2="1649.3" y2="255.8"/>
<line x1="1649.3" y1="573.7" x2="1649.3" y2="577"/>
<line x1="1661" y1="259.1" x2="1661" y2="255.8"/>
<line x1="1661" y1="573.7" x2="1661" y2="577"/>
<line x1="1672.8" y1="259.1" x2="1672.8" y2="255.8"/>
<line x1="1672.8" y1="573.7" x2="1672.8" y2="577"/>
<line x1="1684.5" y1="259.1" x2="1684.5" y2="255.8"/>
<line x1="1684.5" y1="573.7" x2="1684.5" y2="577"/>
<line x1="1708.1" y1="259.1" x2="1708.1" y2="255.8"/>
<line x1="1708.1" y1="573.7" x2="1708.1" y2="577"/>
<line x1="1719.8" y1="259.1" x2="1719.8" y2="255.8"/>
<line x1="1719.8" y1="573.7" x2="1719.8" y2="577"/>
<line x1="1731.6" y1="259.1" x2="1731.6" y2="255.8"/>
<line x1="1731.6" y1="573.7" x2="1731.6" y2="577"/>
<line x1="1743.3" y1="259.1" x2="1743.3" y2="255.8"/>
<line x1="1743.3" y1="573.7" x2="1743.3" y2="577"/>
<line x1="1766.9" y1="259.1" x2="1766.9" y2="255.8"/>
<line x1="1766.9" y1="573.7" x2="1766.9" y2="577"/>
<line x1="1778.6" y1="259.1" x2="1778.6" y2="255.8"/>
<line x1="1778.6" y1="573.7" x2="1778.6" y2="577"/>
<line x1="1790.4" y1="259.1" x2="1790.4" y2="255.8"/>
<line x1="1790.4" y1="573.7" x2="1790.4" y2="577"/>
<line x1="1802.1" y1="259.1" x2="1802.1" y2="255.8"/>
<line x1="1802.1" y1="573.7" x2="1802.1" y2="577"/>
<line x1="1825.7" y1="259.1" x2="1825.7" y2="255.8"/>
<line x1="1825.7" y1="573.7" x2="1825.7" y2="577"/>
<line x1="1837.4" y1="259.1" x2="1837.4" y2="255.8"/>
<line x1="1837.4" y1="573.7" x2="1837.4" y2="577"/>
<line x1="1849.2" y1="259.1" x2="1849.2" y2="255.8"/>
<line x1="1849.2" y1="573.7" x2="1849.2" y2="577"/>
<line x1="1860.9" y1="259.1" x2="1860.9" y2="255.8"/>
<line x1="1860.9" y1="573.7" x2="1860.9" y2="577"/>
<line x1="1884.5" y1="259.1" x2="1884.5" y2="255.8"/>
<line x1="1884.5" y1="573.7" x2="1884.5" y2="577"/>
<line x1="1896.2" y1="259.1" x2="1896.2" y2="255.8"/>
<line x1="1896.2" y1="573.7" x2="1896.2" y2="577"/>
<line x1="1908" y1="259.1" x2="1908" y2="255.8"/>
<line x1="1908" y1="573.7" x2="1908" y2="577"/>
<line x1="1919.7" y1="259.1" x2="1919.7" y2="255.8"/>
<line x1="1919.7" y1="573.7" x2="1919.7" y2="577"/>
<line x1="1943.3" y1="259.1" x2="1943.3" y2="255.8"/>
<line x1="1943.3" y1="573.7" x2="1943.3" y2="577"/>
<line x1="1955" y1="259.1" x2="1955" y2="255.8"/>
<line x1="1955" y1="573.7" x2="1955" y2="577"/>
<line x1="1566.7" y1="563.9" x2="1563.4" y2="563.9"/>
<line x1="1966.5" y1="563.9" x2="1969.8" y2="563.9"/>
<line x1="1566.7" y1="540.1" x2="1563.4" y2="540.1"/>
<line x1="1966.5" y1="540.1" x2="1969.8" y2="540.1"/>
<line x1="1566.7" y1="528.1" x2="1563.4" y2="528.1"/>
<line x1="1966.5" y1="528.1" x2="1969.8" y2="528.1"/>
<line x1="1566.7" y1="516" x2="1563.4" y2="516"/>
<line x1="1966.5" y1="516" x2="1969.8" y2="516"/>
<line x1="1566.7" y1="503.9" x2="1563.4" y2="503.9"/>
<line x1="1966.5" y1="503.9" x2="1969.8" y2="503.9"/>
<line x1="1566.7" y1="479.6" x2="1563.4" y2="479.6"/>
<line x1="1966.5" y1="479.6" x2="1969.8" y2="479.6"/>
<line x1="1566.7" y1="467.3" x2="1563.4" y2="467.3"/>
<line x1="1966.5" y1="467.3" x2="1969.8" y2="467.3"/>
<line x1="1566.7" y1="455" x2="1563.4" y2="455"/>
<line x1="1966.5" y1="455" x2="1969.8" y2="455"/>
<line x1="1566.7" y1="442.6" x2="1563.4" y2="442.6"/>
<line x1="1966.5" y1="442.6" x2="1969.8" y2="442.6"/>
<line x1="1566.7" y1="417.5" x2="1563.4" y2="417.5"/>
<line x1="1966.5" y1="417.5" x2="1969.8" y2="417.5"/>
<line x1="1566.7" y1="404.9" x2="1563.4" y2="404.9"/>
<line x1="1966.5" y1="404.9" x2="1969.8" y2="404.9"/>
<line x1="1566.7" y1="392.2" x2="1563.4" y2="392.2"/>
<line x1="1966.5" y1="392.2" x2="1969.8" y2="392.2"/>
<line x1="1566.7" y1="379.3" x2="1563.4" y2="379.3"/>
<line x1="1966.5" y1="379.3" x2="1969.8" y2="379.3"/>
<line x1="1566.7" y1="353.4" x2="1563.4" y2="353.4"/>
<line x1="1966.5" y1="353.4" x2="1969.8" y2="353.4"/>
<line x1="1566.7" y1="340.3" x2="1563.4" y2="340.3"/>
<line x1="1966.5" y1="340.3" x2="1969.8" y2="340.3"/>
<line x1="1566.7" y1="327" x2="1563.4" y2="327"/>
<line x1="1966.5" y1="327" x2="1969.8" y2="327"/>
<line x1="1566.7" y1="313.6" x2="1563.4" y2="313.6"/>
<line x1="1966.5" y1="313.6" x2="1969.8" y2="313.6"/>
<line x1="1566.7" y1="286.5" x2="1563.4" y2="286.5"/>
<line x1="1966.5" y1="286.5" x2="1969.8" y2="286.5"/>
<line x1="1566.7" y1="272.7" x2="1563.4" y2="272.7"/>
<line x1="1966.5" y1="272.7" x2="1969.8" y2="272.7"/>
</g>
<g font-size="22.1" filter="url(#tf)">
<text x="1550.3" y="561.2" text-anchor="end" textLength="54.6" lengthAdjust="spacingAndGlyphs">10°N</text>
<text x="1550.3" y="501" text-anchor="end" textLength="54.6" lengthAdjust="spacingAndGlyphs">15°N</text>
<text x="1550.3" y="439.3" text-anchor="end" textLength="54.6" lengthAdjust="spacingAndGlyphs">20°N</text>
<text x="1550.3" y="375.6" text-anchor="end" textLength="54.6" lengthAdjust="spacingAndGlyphs">25°N</text>
<text x="1550.3" y="309.3" text-anchor="end" textLength="54.6" lengthAdjust="spacingAndGlyphs">30°N</text>
<text transform="translate(1576.2,625.1) rotate(-45)" y="7.9" text-anchor="middle" textLength="73.6" lengthAdjust="spacingAndGlyphs">125°W</text>
<text transform="translate(1635,625.1) rotate(-45)" y="7.9" text-anchor="middle" textLength="73.6" lengthAdjust="spacingAndGlyphs">120°W</text>
<text transform="translate(1693.8,625.1) rotate(-45)" y="7.9" text-anchor="middle" textLength="73.6" lengthAdjust="spacingAndGlyphs">115°W</text>
<text transform="translate(1752.6,625.1) rotate(-45)" y="7.9" text-anchor="middle" textLength="73.6" lengthAdjust="spacingAndGlyphs">110°W</text>
<text transform="translate(1811.4,625.1) rotate(-45)" y="7.9" text-anchor="middle" textLength="73.6" lengthAdjust="spacingAndGlyphs">105°W</text>
<text transform="translate(1870.2,625.1) rotate(-45)" y="7.9" text-anchor="middle" textLength="73.6" lengthAdjust="spacingAndGlyphs">100°W</text>
<text transform="translate(1929,620.2) rotate(-45)" y="7.9" text-anchor="middle" textLength="59.8" lengthAdjust="spacingAndGlyphs">95°W</text>
</g>
<rect x="1684" y="657.8" width="164.9" height="144.1" rx="3.5" ry="3.5" fill="#fff" fill-opacity="0.8" stroke="#cccccc" stroke-width="1.6"/>
<line x1="1694" y1="677.1" x2="1738.2" y2="677.1" stroke="#0000ff" stroke-width="3.33" stroke-linecap="square"/>
<circle cx="1715.6" cy="677.1" r="5.85" fill="#0000ff"/>
<line x1="1694" y1="712.2" x2="1738.2" y2="712.2" stroke="#ff0000" stroke-width="3.33" stroke-linecap="square"/>
<circle cx="1715.6" cy="712.2" r="5.85" fill="#ff0000"/>
<line x1="1694" y1="746.4" x2="1738.2" y2="746.4" stroke="#008000" stroke-width="3.33" stroke-linecap="square"/>
<circle cx="1715.6" cy="746.4" r="5.85" fill="#008000"/>
<line x1="1694" y1="780.5" x2="1738.2" y2="780.5" stroke="#ff00ff" stroke-width="3.33" stroke-linecap="square"/>
<circle cx="1715.6" cy="780.5" r="5.85" fill="#ff00ff"/>
<g filter="url(#tf)">
<text x="1755.4" y="685.1" font-size="22.1" textLength="68.5" lengthAdjust="spacingAndGlyphs">sp030</text>
<text x="1755.4" y="720.2" font-size="22.1" textLength="72.3" lengthAdjust="spacingAndGlyphs">RTOFS</text>
<text x="1755.4" y="754.1" font-size="22.1" textLength="58.1" lengthAdjust="spacingAndGlyphs">ESPC</text>
<text x="1755.4" y="788.4" font-size="22.1" textLength="83.4" lengthAdjust="spacingAndGlyphs">CMEMS</text>
</g>
</svg></body></html>
